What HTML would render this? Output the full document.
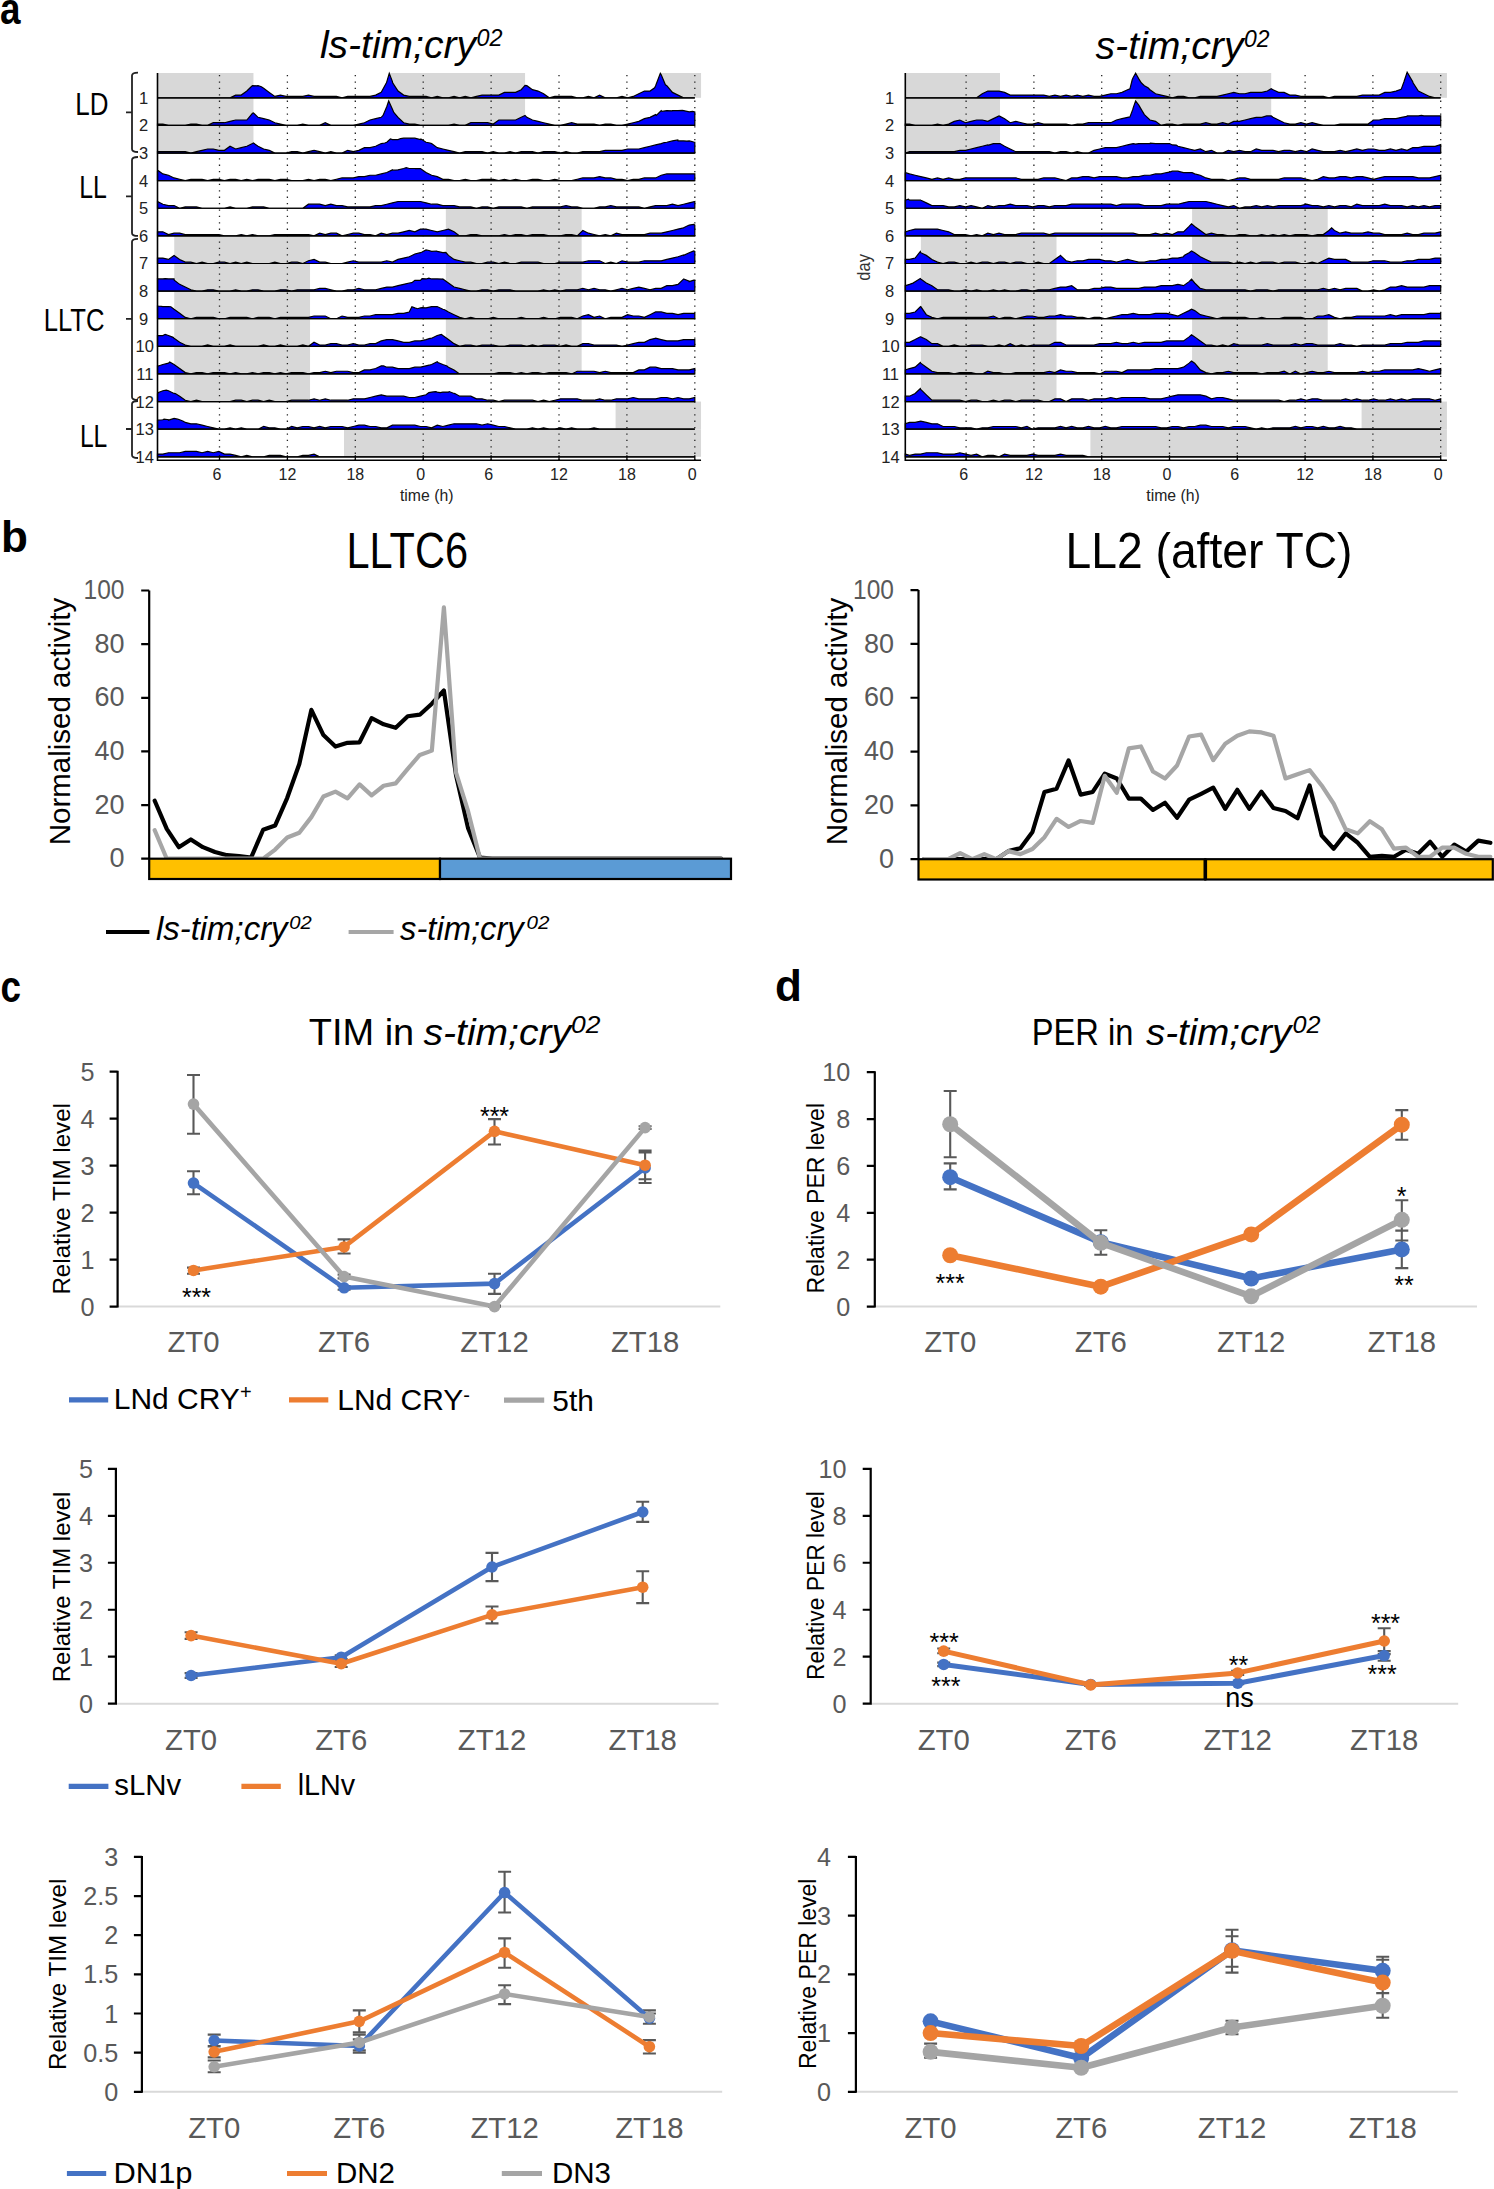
<!DOCTYPE html>
<html><head><meta charset="utf-8"><style>
html,body{margin:0;padding:0;background:#fff;}
svg{display:block;}
</style></head><body>
<svg width="1494" height="2189" viewBox="0 0 1494 2189" font-family='"Liberation Sans", sans-serif'>
<rect width="1494" height="2189" fill="#fff"/>
<text x="0" y="23.8" font-size="44" fill="#000" font-weight="bold" textLength="20.5" lengthAdjust="spacingAndGlyphs" >a</text>
<text x="1" y="552.2" font-size="44" fill="#000" font-weight="bold" >b</text>
<text x="0.5" y="1001.6" font-size="44" fill="#000" font-weight="bold" textLength="20.5" lengthAdjust="spacingAndGlyphs" >c</text>
<text x="775" y="1001" font-size="44" fill="#000" font-weight="bold" >d</text>
<rect x="157.5" y="73" width="95.95" height="24.8" fill="#d8d8d8"/>
<rect x="389.26" y="73" width="135.8" height="24.8" fill="#d8d8d8"/>
<rect x="660.87" y="73" width="40.18" height="24.8" fill="#d8d8d8"/>
<rect x="157.5" y="97.8" width="95.95" height="27.61" fill="#d8d8d8"/>
<rect x="389.26" y="97.8" width="135.8" height="27.61" fill="#d8d8d8"/>
<rect x="157.5" y="125.41" width="95.95" height="27.62" fill="#d8d8d8"/>
<rect x="445.84" y="208.26" width="135.8" height="27.62" fill="#d8d8d8"/>
<rect x="174.23" y="235.88" width="135.8" height="27.62" fill="#d8d8d8"/>
<rect x="445.84" y="235.88" width="135.8" height="27.62" fill="#d8d8d8"/>
<rect x="174.23" y="263.49" width="135.8" height="27.61" fill="#d8d8d8"/>
<rect x="445.84" y="263.49" width="135.8" height="27.61" fill="#d8d8d8"/>
<rect x="174.23" y="291.1" width="135.8" height="27.62" fill="#d8d8d8"/>
<rect x="445.84" y="291.1" width="135.8" height="27.62" fill="#d8d8d8"/>
<rect x="174.23" y="318.72" width="135.8" height="27.62" fill="#d8d8d8"/>
<rect x="445.84" y="318.72" width="135.8" height="27.62" fill="#d8d8d8"/>
<rect x="174.23" y="346.33" width="135.8" height="27.62" fill="#d8d8d8"/>
<rect x="445.84" y="346.33" width="135.8" height="27.62" fill="#d8d8d8"/>
<rect x="174.23" y="373.95" width="135.8" height="27.62" fill="#d8d8d8"/>
<rect x="615.6" y="401.56" width="85.44" height="27.62" fill="#d8d8d8"/>
<rect x="343.99" y="429.18" width="357.05" height="27.62" fill="#d8d8d8"/>
<path d="M219.5 75V460.2M287.4 75V460.2M355.31 75V460.2M423.21 75V460.2M491.11 75V460.2M559.01 75V460.2M626.91 75V460.2M694.82 75V460.2" stroke="#222" stroke-width="1.3" stroke-dasharray="1.3 5.1" fill="none"/>
<path d="M157.5 97.8L157.5 97.8L162.86 97.8L168.46 97.8L174.06 97.8L179.66 97.8L185.26 97.8L190.86 97.8L196.46 97.8L202.05 97.8L207.65 97.8L213.25 97.8L218.85 97.8L224.45 97.8L230.05 97.8L235.65 95.1L241.25 95.1L246.85 91.05L251.19 86.8L252.45 85.65L256.28 85.8L258.05 85.65L261.37 86.8L263.65 88.35L269.25 92.4L274.85 96.45L280.45 95.1L286.05 96.45L291.65 96.45L297.25 96.45L302.85 96.45L308.45 95.1L314.05 96.45L319.65 96.45L325.25 96.45L330.84 96.45L336.44 96.45L342.04 97.8L347.64 96.45L353.24 96.45L358.84 96.45L364.44 96.45L370.04 96.45L375.64 95.1L381.24 92.4L386.43 82.8L386.84 81.6L389.26 73.3L392.44 81.6L392.65 82.8L398.04 91.05L403.64 95.1L409.24 96.45L414.84 96.45L420.44 96.45L426.04 96.45L431.64 97.8L437.24 96.45L442.84 97.8L448.44 97.8L454.04 96.45L459.63 97.8L465.23 96.45L470.83 97.8L476.43 96.45L482.03 95.1L487.63 95.1L493.23 95.1L498.83 95.1L504.43 92.4L510.03 92.4L515.63 92.4L521.23 89.7L525.06 85.3L526.83 85.65L532.43 89.7L538.03 91.05L543.63 93.75L549.23 97.8L554.83 96.45L560.43 96.45L566.03 96.45L571.63 96.45L577.23 97.8L582.82 97.8L588.42 96.45L594.02 97.8L599.62 95.1L605.22 97.8L610.82 97.8L616.42 97.8L622.02 96.45L627.62 97.8L633.22 96.45L638.82 93.75L644.42 91.05L650.02 91.05L654.64 87.8L655.62 85.65L660.3 73.3L661.22 74.85L665.39 84.8L666.82 85.65L672.42 92.4L678.02 95.1L683.62 97.8L689.22 97.8L694.82 97.8L694.82 97.8Z" fill="#0000ff" stroke="#000" stroke-width="1.2" stroke-linejoin="miter"/>
<path d="M157.5 125.41L157.5 124.06L162.86 124.06L168.46 125.41L174.06 125.41L179.66 125.41L185.26 125.41L190.86 124.06L196.46 124.06L202.05 125.41L207.65 125.41L213.25 122.71L218.85 122.71L224.45 122.71L230.05 121.36L235.65 120.01L241.25 120.01L246.85 120.01L252.45 113.26L253.45 112.91L258.05 117.31L263.65 118.66L269.25 120.01L274.85 122.71L280.45 124.06L286.05 125.41L291.65 125.41L297.25 125.41L302.85 124.06L308.45 125.41L314.05 125.41L319.65 125.41L325.25 122.71L330.84 125.41L336.44 125.41L342.04 125.41L347.64 125.41L353.24 125.41L358.84 124.06L364.44 122.71L370.04 120.01L375.64 118.66L381.24 117.31L383.03 115.41L386.84 106.51L388.69 100.91L392.44 109.21L393.78 112.41L398.04 117.31L403.64 122.71L409.24 124.06L414.84 124.06L420.44 125.41L426.04 125.41L431.64 125.41L437.24 125.41L442.84 125.41L448.44 125.41L454.04 124.06L459.63 125.41L465.23 125.41L470.83 122.71L476.43 122.71L482.03 122.71L487.63 122.71L493.23 124.06L498.83 120.01L504.43 120.01L510.03 120.01L515.63 120.01L521.23 117.31L525.06 115.41L526.83 117.31L532.43 120.01L538.03 121.36L543.63 122.71L549.23 124.06L554.83 125.41L560.43 125.41L566.03 124.06L571.63 122.71L577.23 124.06L582.82 124.06L588.42 124.06L594.02 124.06L599.62 125.41L605.22 124.06L610.82 124.06L616.42 125.41L622.02 125.41L627.62 124.06L633.22 122.71L638.82 121.36L644.42 118.66L650.02 117.31L655.62 114.61L656.34 115.41L661.22 110.56L662 111.41L666.82 110.56L672.18 110.91L672.42 110.56L678.02 110.56L682.37 110.41L683.62 110.56L689.22 111.91L692.55 111.41L694.82 111.91L694.82 125.41Z" fill="#0000ff" stroke="#000" stroke-width="1.2" stroke-linejoin="miter"/>
<path d="M157.5 153.03L157.5 151.68L162.86 151.68L168.46 151.68L174.06 151.68L179.66 151.68L185.26 151.68L190.86 153.03L196.46 151.68L202.05 150.33L207.65 148.98L213.25 148.98L218.85 150.33L224.45 150.33L230.05 146.28L235.65 148.98L241.25 147.63L246.85 146.28L252.45 143.58L253.45 143.03L258.05 146.28L263.65 148.98L269.25 150.33L274.85 153.03L280.45 153.03L286.05 153.03L291.65 151.68L297.25 151.68L302.85 153.03L308.45 151.68L314.05 150.33L319.65 151.68L325.25 153.03L330.84 151.68L336.44 153.03L342.04 153.03L347.64 150.33L353.24 151.68L358.84 150.33L364.44 147.63L370.04 147.63L375.64 146.28L381.24 143.58L384.73 143.03L386.84 142.23L390.39 139.03L392.44 139.53L398.04 139.53L400.57 138.53L403.64 138.18L409.24 138.18L410.76 138.03L414.84 138.18L420.44 139.53L420.94 139.03L426.04 142.23L430 143.03L431.64 143.58L437.24 147.63L442.84 148.98L448.44 150.33L454.04 151.68L459.63 153.03L465.23 151.68L470.83 151.68L476.43 151.68L482.03 151.68L487.63 153.03L493.23 151.68L498.83 153.03L504.43 153.03L510.03 151.68L515.63 153.03L521.23 151.68L526.83 151.68L532.43 151.68L538.03 153.03L543.63 151.68L549.23 151.68L554.83 151.68L560.43 153.03L566.03 151.68L571.63 153.03L577.23 153.03L582.82 151.68L588.42 151.68L594.02 151.68L599.62 151.68L605.22 150.33L610.82 150.33L616.42 150.33L622.02 150.33L627.62 148.98L633.22 148.98L638.82 148.98L644.42 147.63L650.02 146.28L655.62 144.93L661.22 143.58L664.26 142.53L666.82 142.23L672.42 140.88L677.84 140.03L678.02 140.88L683.62 140.88L686.89 141.03L689.22 140.88L693.68 142.03L694.82 142.23L694.82 153.03Z" fill="#0000ff" stroke="#000" stroke-width="1.2" stroke-linejoin="miter"/>
<path d="M157.5 180.64L157.5 171.19L158.39 170.64L162.86 173.89L168.46 175.24L174.06 177.94L179.66 179.29L185.26 180.64L190.86 179.29L196.46 179.29L202.05 179.29L207.65 180.64L213.25 179.29L218.85 179.29L224.45 180.64L230.05 179.29L235.65 179.29L241.25 180.64L246.85 179.29L252.45 180.64L258.05 179.29L263.65 179.29L269.25 179.29L274.85 180.64L280.45 179.29L286.05 179.29L291.65 180.64L297.25 180.64L302.85 180.64L308.45 179.29L314.05 180.64L319.65 179.29L325.25 179.29L330.84 180.64L336.44 179.29L342.04 177.94L347.64 177.94L353.24 177.94L358.84 176.59L364.44 176.59L370.04 175.24L375.64 175.24L381.24 173.89L386.84 172.54L392.44 169.84L392.65 170.14L398.04 169.84L403.64 168.49L406.23 167.64L409.24 168.49L414.84 168.49L415.29 168.64L420.44 168.49L422.08 169.64L426.04 172.54L431.64 175.24L437.24 176.59L442.84 179.29L448.44 179.29L454.04 180.64L459.63 180.64L465.23 179.29L470.83 180.64L476.43 180.64L482.03 179.29L487.63 179.29L493.23 179.29L498.83 180.64L504.43 179.29L510.03 180.64L515.63 179.29L521.23 180.64L526.83 180.64L532.43 179.29L538.03 179.29L543.63 180.64L549.23 180.64L554.83 179.29L560.43 180.64L566.03 180.64L571.63 180.64L577.23 179.29L582.82 177.94L588.42 177.94L594.02 177.94L599.62 176.59L605.22 177.94L610.82 177.94L616.42 179.29L622.02 179.29L627.62 180.64L633.22 179.29L638.82 179.29L644.42 177.94L650.02 177.94L655.62 177.94L661.22 175.24L666.82 173.89L672.42 173.89L678.02 173.89L683.62 173.89L689.22 173.89L694.82 173.89L694.82 180.64Z" fill="#0000ff" stroke="#000" stroke-width="1.2" stroke-linejoin="miter"/>
<path d="M157.5 208.26L157.5 201.51L162.86 204.21L168.46 205.56L174.06 205.56L179.66 208.26L185.26 206.91L190.86 206.91L196.46 206.91L202.05 208.26L207.65 208.26L213.25 208.26L218.85 208.26L224.45 208.26L230.05 206.91L235.65 208.26L241.25 208.26L246.85 208.26L252.45 206.91L258.05 206.91L263.65 206.91L269.25 208.26L274.85 208.26L280.45 208.26L286.05 208.26L291.65 208.26L297.25 208.26L302.85 208.26L308.45 204.21L314.05 204.21L319.65 204.21L325.25 205.56L330.84 204.21L336.44 205.56L342.04 205.56L347.64 206.91L353.24 206.91L358.84 206.91L364.44 206.91L370.04 206.91L375.64 205.56L381.24 205.56L386.84 204.21L392.44 202.86L398.04 201.51L403.64 201.51L409.24 201.51L414.84 201.51L420.44 201.51L426.04 202.86L431.64 204.21L437.24 204.21L442.84 205.56L448.44 205.56L454.04 205.56L459.63 206.91L465.23 206.91L470.83 206.91L476.43 208.26L482.03 206.91L487.63 206.91L493.23 208.26L498.83 206.91L504.43 206.91L510.03 206.91L515.63 206.91L521.23 206.91L526.83 208.26L532.43 206.91L538.03 206.91L543.63 206.91L549.23 206.91L554.83 206.91L560.43 206.91L566.03 205.56L571.63 206.91L577.23 206.91L582.82 208.26L588.42 208.26L594.02 208.26L599.62 206.91L605.22 206.91L610.82 205.56L616.42 206.91L622.02 206.91L627.62 206.91L633.22 206.91L638.82 206.91L644.42 208.26L650.02 206.91L655.62 205.56L661.22 205.56L666.82 205.56L672.42 204.21L678.02 205.56L683.62 204.21L689.22 202.86L694.82 201.51L694.82 208.26Z" fill="#0000ff" stroke="#000" stroke-width="1.2" stroke-linejoin="miter"/>
<path d="M157.5 235.88L157.5 231.82L162.86 231.82L168.46 234.53L174.06 233.18L179.66 233.18L185.26 234.53L190.86 234.53L196.46 234.53L202.05 234.53L207.65 234.53L213.25 234.53L218.85 234.53L224.45 235.88L230.05 235.88L235.65 235.88L241.25 234.53L246.85 235.88L252.45 234.53L258.05 235.88L263.65 235.88L269.25 235.88L274.85 234.53L280.45 234.53L286.05 234.53L291.65 234.53L297.25 234.53L302.85 234.53L308.45 234.53L314.05 235.88L319.65 233.18L325.25 234.53L330.84 233.18L336.44 233.18L342.04 235.88L347.64 234.53L353.24 233.18L358.84 233.18L364.44 234.53L370.04 234.53L375.64 235.88L381.24 233.18L386.84 234.53L392.44 233.18L398.04 233.18L403.64 231.82L409.24 230.47L414.84 231.82L420.44 229.12L426.04 229.12L431.64 230.47L437.24 231.82L442.84 230.47L448.44 229.12L454.04 231.82L459.63 235.88L465.23 235.88L470.83 234.53L476.43 234.53L482.03 235.88L487.63 235.88L493.23 235.88L498.83 235.88L504.43 234.53L510.03 235.88L515.63 234.53L521.23 234.53L526.83 235.88L532.43 234.53L538.03 234.53L543.63 234.53L549.23 235.88L554.83 235.88L560.43 235.88L566.03 234.53L571.63 234.53L577.23 235.88L582.82 230.47L588.42 233.18L594.02 234.53L599.62 235.88L605.22 234.53L610.82 235.88L616.42 233.18L622.02 234.53L627.62 234.53L633.22 234.53L638.82 234.53L644.42 234.53L650.02 233.18L655.62 233.18L661.22 233.18L666.82 231.82L672.42 230.47L678.02 229.12L683.5 227.88L683.62 227.78L689.22 225.07L693.68 224.38L694.82 225.07L694.82 235.88Z" fill="#0000ff" stroke="#000" stroke-width="1.2" stroke-linejoin="miter"/>
<path d="M157.5 263.49L157.5 258.09L162.86 258.09L168.46 259.44L174.06 255.39L179.66 259.44L185.26 262.14L190.86 262.14L196.46 263.49L202.05 262.14L207.65 263.49L213.25 263.49L218.85 262.14L224.45 262.14L230.05 263.49L235.65 262.14L241.25 263.49L246.85 262.14L252.45 263.49L258.05 263.49L263.65 263.49L269.25 263.49L274.85 262.14L280.45 263.49L286.05 263.49L291.65 262.14L297.25 262.14L302.85 263.49L308.45 260.79L314.05 259.44L319.65 262.14L325.25 262.14L330.84 263.49L336.44 263.49L342.04 263.49L347.64 262.14L353.24 260.79L358.84 262.14L364.44 262.14L370.04 262.14L375.64 262.14L381.24 262.14L386.84 260.79L392.44 262.14L398.04 259.44L403.64 258.09L409.24 256.74L411.89 255.49L414.84 254.04L420.44 252.69L422.08 251.99L426.04 249.99L428.87 250.49L431.64 251.34L436.79 250.99L437.24 251.34L442.84 252.69L445.84 252.49L448.44 255.39L454.04 259.44L459.63 260.79L465.23 262.14L470.83 262.14L476.43 263.49L482.03 263.49L487.63 262.14L493.23 262.14L498.83 263.49L504.43 262.14L510.03 263.49L515.63 263.49L521.23 262.14L526.83 262.14L532.43 262.14L538.03 262.14L543.63 263.49L549.23 263.49L554.83 263.49L560.43 262.14L566.03 262.14L571.63 262.14L577.23 262.14L582.82 262.14L588.42 260.79L594.02 260.79L599.62 260.79L605.22 263.49L610.82 262.14L616.42 263.49L622.02 260.79L627.62 262.14L633.22 262.14L638.82 262.14L644.42 260.79L650.02 260.79L655.62 260.79L661.22 260.79L666.82 259.44L672.42 258.09L678.02 256.74L683.5 254.99L683.62 255.39L689.22 252.69L693.68 250.99L694.82 251.34L694.82 263.49Z" fill="#0000ff" stroke="#000" stroke-width="1.2" stroke-linejoin="miter"/>
<path d="M157.5 291.1L157.5 278.1L157.5 278.95L162.86 278.95L165.18 278.6L168.46 278.95L174.06 278.95L174.23 280.1L179.66 284.35L185.26 287.05L190.86 289.75L196.46 291.1L202.05 291.1L207.65 289.75L213.25 289.75L218.85 291.1L224.45 291.1L230.05 291.1L235.65 289.75L241.25 291.1L246.85 291.1L252.45 289.75L258.05 289.75L263.65 291.1L269.25 291.1L274.85 291.1L280.45 289.75L286.05 289.75L291.65 291.1L297.25 289.75L302.85 289.75L308.45 289.75L314.05 289.75L319.65 288.4L325.25 288.4L330.84 289.75L336.44 291.1L342.04 291.1L347.64 289.75L353.24 289.75L358.84 288.4L364.44 289.75L370.04 289.75L375.64 289.75L381.24 288.4L386.84 287.05L392.44 287.05L398.04 285.7L403.64 284.35L409.24 283L411.89 282.6L414.84 280.3L420.44 280.3L422.08 278.6L426.04 278.95L428.87 278.1L431.64 278.95L437.24 278.95L442.45 279.1L442.84 278.95L448.44 283L454.04 287.05L459.63 288.4L465.23 289.75L470.83 291.1L476.43 291.1L482.03 289.75L487.63 289.75L493.23 291.1L498.83 289.75L504.43 289.75L510.03 289.75L515.63 291.1L521.23 291.1L526.83 291.1L532.43 291.1L538.03 291.1L543.63 289.75L549.23 291.1L554.83 289.75L560.43 291.1L566.03 289.75L571.63 289.75L577.23 289.75L582.82 288.4L588.42 289.75L594.02 288.4L599.62 289.75L605.22 289.75L610.82 291.1L616.42 289.75L622.02 288.4L627.62 289.75L633.22 288.4L638.82 287.05L644.42 288.4L650.02 289.75L655.62 288.4L661.22 288.4L666.82 285.7L672.42 285.7L678.02 284.35L683.5 279.1L683.62 278.95L689.16 281.1L689.22 281.65L693.68 280.1L694.82 280.3L694.82 291.1Z" fill="#0000ff" stroke="#000" stroke-width="1.2" stroke-linejoin="miter"/>
<path d="M157.5 318.72L157.5 305.22L157.5 305.72L162.86 306.57L168.46 306.57L170.84 306.72L174.06 309.27L179.66 313.32L185.26 317.37L190.86 318.72L196.46 317.37L202.05 317.37L207.65 317.37L213.25 317.37L218.85 318.72L224.45 318.72L230.05 317.37L235.65 317.37L241.25 317.37L246.85 317.37L252.45 318.72L258.05 317.37L263.65 317.37L269.25 317.37L274.85 318.72L280.45 317.37L286.05 317.37L291.65 317.37L297.25 317.37L302.85 317.37L308.45 317.37L314.05 316.02L319.65 316.02L325.25 316.02L330.84 318.72L336.44 318.72L342.04 316.02L347.64 317.37L353.24 317.37L358.84 317.37L364.44 316.02L370.04 316.02L375.64 314.67L381.24 314.67L386.84 314.67L392.44 314.67L398.04 313.32L403.64 313.32L409.24 311.97L411.89 306.72L414.84 307.92L417.55 308.72L420.44 307.92L422.08 307.72L426.04 307.92L431.64 306.57L436.79 306.72L437.24 306.57L442.84 309.27L444.71 309.72L448.44 311.97L454.04 314.67L459.63 317.37L465.23 318.72L470.83 317.37L476.43 318.72L482.03 318.72L487.63 318.72L493.23 317.37L498.83 318.72L504.43 318.72L510.03 318.72L515.63 318.72L521.23 317.37L526.83 318.72L532.43 318.72L538.03 318.72L543.63 317.37L549.23 318.72L554.83 318.72L560.43 317.37L566.03 317.37L571.63 317.37L577.23 318.72L582.82 316.02L588.42 314.67L594.02 317.37L599.62 316.02L605.22 318.72L610.82 317.37L616.42 317.37L622.02 317.37L627.62 314.67L633.22 316.02L638.82 316.02L644.42 317.37L650.02 314.67L655.62 311.97L661.22 311.97L666.82 313.32L672.42 313.32L678.02 314.67L683.62 313.32L689.22 313.32L694.82 313.32L694.82 318.72Z" fill="#0000ff" stroke="#000" stroke-width="1.2" stroke-linejoin="miter"/>
<path d="M157.5 346.33L157.5 335.53L162.86 335.53L165.18 334.33L168.46 335.53L173.1 337.33L174.06 338.23L179.66 342.28L185.26 344.98L190.86 346.33L196.46 346.33L202.05 346.33L207.65 344.98L213.25 346.33L218.85 346.33L224.45 346.33L230.05 344.98L235.65 346.33L241.25 346.33L246.85 346.33L252.45 346.33L258.05 346.33L263.65 344.98L269.25 346.33L274.85 346.33L280.45 344.98L286.05 346.33L291.65 346.33L297.25 346.33L302.85 344.98L308.45 346.33L314.05 342.28L319.65 344.98L325.25 344.98L330.84 343.63L336.44 343.63L342.04 344.98L347.64 344.98L353.24 343.63L358.84 344.98L364.44 344.98L370.04 343.63L375.64 343.63L381.24 340.94L386.84 339.58L392.44 339.58L398.04 340.94L403.64 342.28L409.24 342.28L414.84 340.94L420.44 340.94L426.04 339.58L430 338.33L431.64 338.23L437.24 335.53L441.32 334.33L442.84 335.53L448.44 339.58L454.04 343.63L459.63 346.33L465.23 344.98L470.83 344.98L476.43 346.33L482.03 344.98L487.63 344.98L493.23 344.98L498.83 346.33L504.43 346.33L510.03 344.98L515.63 344.98L521.23 344.98L526.83 346.33L532.43 344.98L538.03 346.33L543.63 344.98L549.23 344.98L554.83 344.98L560.43 346.33L566.03 344.98L571.63 346.33L577.23 346.33L582.82 343.63L588.42 343.63L594.02 344.98L599.62 344.98L605.22 344.98L610.82 344.98L616.42 344.98L622.02 346.33L627.62 344.98L633.22 343.63L638.82 342.28L644.42 342.28L650.02 339.58L655.21 338.33L655.62 338.23L661.22 339.58L666.82 340.94L672.42 340.94L678.02 340.94L683.62 339.58L689.22 339.58L694.82 339.58L694.82 346.33Z" fill="#0000ff" stroke="#000" stroke-width="1.2" stroke-linejoin="miter"/>
<path d="M157.5 373.95L157.5 365.85L158.39 365.95L162.86 364.5L168.46 363.15L169.71 361.95L174.06 364.5L179.66 368.55L185.26 372.6L190.86 373.95L196.46 372.6L202.05 372.6L207.65 373.95L213.25 372.6L218.85 372.6L224.45 372.6L230.05 373.95L235.65 372.6L241.25 373.95L246.85 373.95L252.45 372.6L258.05 373.95L263.65 372.6L269.25 372.6L274.85 373.95L280.45 372.6L286.05 373.95L291.65 372.6L297.25 372.6L302.85 372.6L308.45 373.95L314.05 372.6L319.65 372.6L325.25 371.25L330.84 372.6L336.44 371.25L342.04 371.25L347.64 371.25L353.24 372.6L358.84 372.6L364.44 369.9L370.04 369.9L375.64 368.55L381.24 365.85L383.6 365.95L386.84 367.2L392.44 367.2L398.04 368.55L403.64 368.55L409.24 368.55L414.84 367.2L420.44 367.2L426.04 365.85L430 364.95L431.64 364.5L437.24 361.8L437.92 362.45L442.84 364.5L446.97 365.95L448.44 367.2L454.04 369.9L459.63 373.95L465.23 373.95L470.83 373.95L476.43 373.95L482.03 373.95L487.63 373.95L493.23 373.95L498.83 372.6L504.43 372.6L510.03 372.6L515.63 373.95L521.23 372.6L526.83 373.95L532.43 372.6L538.03 372.6L543.63 373.95L549.23 372.6L554.83 372.6L560.43 372.6L566.03 372.6L571.63 373.95L577.23 371.25L582.82 371.25L588.42 371.25L594.02 371.25L599.62 372.6L605.22 371.25L610.82 372.6L616.42 372.6L622.02 372.6L627.62 372.6L633.22 372.6L638.82 369.9L644.42 369.9L650.02 367.2L655.62 367.2L661.22 368.55L666.82 368.55L672.42 368.55L678.02 369.9L683.62 369.9L689.22 369.9L694.82 368.55L694.82 373.95Z" fill="#0000ff" stroke="#000" stroke-width="1.2" stroke-linejoin="miter"/>
<path d="M157.5 401.56L157.5 393.46L158.39 392.56L162.86 390.76L166.31 390.06L168.46 390.76L174.06 393.46L175.37 393.56L179.66 396.17L185.26 400.21L190.86 401.56L196.46 400.21L202.05 401.56L207.65 401.56L213.25 401.56L218.85 401.56L224.45 401.56L230.05 401.56L235.65 400.21L241.25 400.21L246.85 401.56L252.45 400.21L258.05 400.21L263.65 401.56L269.25 400.21L274.85 401.56L280.45 401.56L286.05 401.56L291.65 400.21L297.25 400.21L302.85 400.21L308.45 400.21L314.05 398.87L319.65 400.21L325.25 398.87L330.84 400.21L336.44 400.21L342.04 400.21L347.64 400.21L353.24 398.87L358.84 398.87L364.44 398.87L370.04 397.51L375.64 396.17L381.24 394.81L386.84 396.17L392.44 396.17L398.04 396.17L403.64 396.17L409.24 397.51L414.84 397.51L420.44 396.17L426.04 394.81L428.87 392.56L431.64 392.12L435.66 391.56L437.24 392.12L440.18 392.56L442.84 392.12L448.44 392.12L449.24 391.56L454.04 393.46L454.9 393.56L459.63 396.17L465.23 396.17L470.83 396.17L476.43 398.87L482.03 398.87L487.63 400.21L493.23 400.21L498.83 401.56L504.43 400.21L510.03 400.21L515.63 400.21L521.23 400.21L526.83 400.21L532.43 400.21L538.03 401.56L543.63 400.21L549.23 401.56L554.83 400.21L560.43 398.87L566.03 398.87L571.63 398.87L577.23 398.87L582.82 400.21L588.42 400.21L594.02 400.21L599.62 398.87L605.22 400.21L610.82 400.21L616.42 398.87L622.02 398.87L627.62 398.87L633.22 397.51L638.82 398.87L644.42 398.87L650.02 398.87L655.62 398.87L661.22 397.51L666.82 397.51L672.42 398.87L678.02 397.51L683.62 398.87L689.22 398.87L694.82 397.51L694.82 401.56Z" fill="#0000ff" stroke="#000" stroke-width="1.2" stroke-linejoin="miter"/>
<path d="M157.5 429.18L157.5 419.73L157.5 420.18L162.86 419.73L164.05 419.18L168.46 419.73L168.58 420.18L174.06 418.38L177.63 419.18L179.66 419.73L183.29 421.18L185.26 422.43L190.86 423.78L196.46 423.78L202.05 425.13L207.65 426.48L213.25 427.83L218.85 429.18L224.45 429.18L230.05 427.83L235.65 429.18L241.25 427.83L246.85 429.18L252.45 429.18L258.05 429.18L263.65 426.48L269.25 427.83L274.85 427.83L280.45 429.18L286.05 429.18L291.65 426.48L297.25 427.83L302.85 426.48L308.45 426.48L314.05 427.83L319.65 426.48L325.25 427.83L330.84 426.48L336.44 426.48L342.04 426.48L347.64 427.83L353.24 426.48L358.84 425.13L364.44 425.13L370.04 426.48L375.64 426.48L381.24 427.83L386.84 427.83L392.44 425.13L398.04 425.13L403.64 425.13L409.24 425.13L414.84 425.13L420.44 426.48L426.04 426.48L431.64 427.83L437.24 425.13L442.84 426.48L448.44 425.13L454.04 423.78L459.63 423.78L465.23 423.78L470.83 423.78L476.43 423.78L482.03 425.13L487.63 423.78L493.23 425.13L498.83 426.48L504.43 426.48L510.03 427.83L515.63 429.18L521.23 429.18L526.83 429.18L532.43 427.83L538.03 429.18L543.63 427.83L549.23 429.18L554.83 429.18L560.43 427.83L566.03 429.18L571.63 427.83L577.23 429.18L582.82 429.18L588.42 429.18L594.02 427.83L599.62 429.18L605.22 429.18L610.82 429.18L616.42 429.18L622.02 429.18L627.62 429.18L633.22 429.18L638.82 429.18L644.42 429.18L650.02 429.18L655.62 429.18L661.22 429.18L666.82 429.18L672.42 429.18L678.02 429.18L683.62 429.18L689.22 429.18L694.82 429.18L694.82 429.18Z" fill="#0000ff" stroke="#000" stroke-width="1.2" stroke-linejoin="miter"/>
<path d="M157.5 456.8L157.5 454.1L162.86 454.1L168.46 452.75L174.06 452.75L179.66 452.75L185.26 451.4L190.86 451.4L196.46 451.4L202.05 452.75L207.65 451.4L213.25 452.75L218.85 451.4L224.45 454.1L230.05 454.1L235.65 455.44L241.25 456.8L246.85 455.44L252.45 456.8L258.05 456.8L263.65 456.8L269.25 455.44L274.85 455.44L280.45 455.44L286.05 456.8L291.65 456.8L297.25 456.8L302.85 455.44L308.45 455.44L314.05 454.1L319.65 456.8L325.25 456.8L330.84 456.8L336.44 456.8L342.04 456.8L347.64 456.8L353.24 456.8L358.84 456.8L364.44 456.8L370.04 456.8L375.64 456.8L381.24 456.8L386.84 456.8L392.44 456.8L398.04 456.8L403.64 456.8L409.24 456.8L414.84 456.8L420.44 456.8L426.04 456.8L431.64 456.8L437.24 456.8L442.84 456.8L448.44 456.8L454.04 456.8L459.63 456.8L465.23 456.8L470.83 456.8L476.43 456.8L482.03 456.8L487.63 456.8L493.23 456.8L498.83 456.8L504.43 456.8L510.03 456.8L515.63 456.8L521.23 456.8L526.83 456.8L532.43 456.8L538.03 456.8L543.63 456.8L549.23 456.8L554.83 456.8L560.43 456.8L566.03 456.8L571.63 456.8L577.23 456.8L582.82 456.8L588.42 456.8L594.02 456.8L599.62 456.8L605.22 456.8L610.82 456.8L616.42 456.8L622.02 456.8L627.62 456.8L633.22 456.8L638.82 456.8L644.42 456.8L650.02 456.8L655.62 456.8L661.22 456.8L666.82 456.8L672.42 456.8L678.02 456.8L683.62 456.8L689.22 456.8L694.82 456.8L694.82 456.8Z" fill="#0000ff" stroke="#000" stroke-width="1.2" stroke-linejoin="miter"/>
<path d="M157.5 97.8H694.82M157.5 125.41H694.82M157.5 153.03H694.82M157.5 180.64H694.82M157.5 208.26H694.82M157.5 235.88H694.82M157.5 263.49H694.82M157.5 291.1H694.82M157.5 318.72H694.82M157.5 346.33H694.82M157.5 373.95H694.82M157.5 401.56H694.82M157.5 429.18H694.82M157.5 456.8H694.82" stroke="#000" stroke-width="1.2" fill="none"/>
<path d="M157.5 73V460.2H701.04" stroke="#000" stroke-width="1.6" fill="none"/>
<path d="M219.5 460.2V455.2M287.4 460.2V455.2M355.31 460.2V455.2M423.21 460.2V455.2M491.11 460.2V455.2M559.01 460.2V455.2M626.91 460.2V455.2M694.82 460.2V455.2" stroke="#000" stroke-width="1.3" fill="none"/>
<text x="217" y="479.6" font-size="16" fill="#222" text-anchor="middle" >6</text>
<text x="287.4" y="479.6" font-size="16" fill="#222" text-anchor="middle" >12</text>
<text x="355.31" y="479.6" font-size="16" fill="#222" text-anchor="middle" >18</text>
<text x="420.71" y="479.6" font-size="16" fill="#222" text-anchor="middle" >0</text>
<text x="488.61" y="479.6" font-size="16" fill="#222" text-anchor="middle" >6</text>
<text x="559.01" y="479.6" font-size="16" fill="#222" text-anchor="middle" >12</text>
<text x="626.91" y="479.6" font-size="16" fill="#222" text-anchor="middle" >18</text>
<text x="692.32" y="479.6" font-size="16" fill="#222" text-anchor="middle" >0</text>
<text x="426.71" y="500.5" font-size="16" fill="#222" text-anchor="middle" textLength="53.5" lengthAdjust="spacingAndGlyphs" >time (h)</text>
<rect x="905.3" y="73" width="94.7" height="24.8" fill="#d8d8d8"/>
<rect x="1135.6" y="73" width="135.6" height="24.8" fill="#d8d8d8"/>
<rect x="1406.8" y="73" width="40.12" height="24.8" fill="#d8d8d8"/>
<rect x="905.3" y="97.8" width="94.7" height="27.61" fill="#d8d8d8"/>
<rect x="1135.6" y="97.8" width="135.6" height="27.61" fill="#d8d8d8"/>
<rect x="905.3" y="125.41" width="94.7" height="27.62" fill="#d8d8d8"/>
<rect x="1192.1" y="208.26" width="135.6" height="27.62" fill="#d8d8d8"/>
<rect x="920.9" y="235.88" width="135.6" height="27.62" fill="#d8d8d8"/>
<rect x="1192.1" y="235.88" width="135.6" height="27.62" fill="#d8d8d8"/>
<rect x="920.9" y="263.49" width="135.6" height="27.61" fill="#d8d8d8"/>
<rect x="1192.1" y="263.49" width="135.6" height="27.61" fill="#d8d8d8"/>
<rect x="920.9" y="291.1" width="135.6" height="27.62" fill="#d8d8d8"/>
<rect x="1192.1" y="291.1" width="135.6" height="27.62" fill="#d8d8d8"/>
<rect x="920.9" y="318.72" width="135.6" height="27.62" fill="#d8d8d8"/>
<rect x="1192.1" y="318.72" width="135.6" height="27.62" fill="#d8d8d8"/>
<rect x="920.9" y="346.33" width="135.6" height="27.62" fill="#d8d8d8"/>
<rect x="1192.1" y="346.33" width="135.6" height="27.62" fill="#d8d8d8"/>
<rect x="920.9" y="373.95" width="135.6" height="27.62" fill="#d8d8d8"/>
<rect x="1361.6" y="401.56" width="85.32" height="27.62" fill="#d8d8d8"/>
<rect x="1090.4" y="429.18" width="356.51" height="27.62" fill="#d8d8d8"/>
<path d="M966.1 75V460.2M1033.9 75V460.2M1101.7 75V460.2M1169.5 75V460.2M1237.3 75V460.2M1305.1 75V460.2M1372.9 75V460.2M1440.7 75V460.2" stroke="#222" stroke-width="1.3" stroke-dasharray="1.3 5.1" fill="none"/>
<path d="M905.3 97.8L905.3 97.8L909.54 97.8L915.13 97.8L920.72 97.8L926.31 97.8L931.91 97.8L937.5 97.8L943.09 97.8L948.68 97.8L954.27 97.8L959.86 97.8L965.45 97.8L971.04 97.8L976.63 97.8L982.23 93.75L987.82 91.05L993.41 91.05L999 91.05L1004.59 92.4L1010.18 95.1L1015.77 95.1L1021.36 95.1L1026.96 95.1L1032.55 95.1L1038.14 95.1L1043.73 95.1L1049.32 96.45L1054.91 95.1L1060.5 96.45L1066.09 95.1L1071.68 96.45L1077.28 95.1L1082.87 96.45L1088.46 95.1L1094.05 96.45L1099.64 96.45L1105.23 95.1L1110.82 93.75L1116.41 93.75L1122 92.4L1127.6 89.7L1129.95 88.8L1132.21 79.8L1133.19 77.55L1135.6 73.3L1138.78 78.9L1141.25 82.8L1144.37 85.65L1148.03 87.8L1149.96 89.7L1155.55 93.75L1161.14 95.1L1166.73 96.45L1172.33 97.8L1177.92 96.45L1183.51 96.45L1189.1 97.8L1194.69 97.8L1200.28 96.45L1205.87 96.45L1211.46 96.45L1217.05 96.45L1222.65 95.1L1228.24 93.75L1233.83 92.4L1239.42 93.75L1245.01 93.75L1250.6 92.4L1256.19 92.4L1261.78 92.4L1267.37 91.05L1271.2 88.8L1272.97 89.7L1278.56 92.4L1284.15 92.4L1289.74 95.1L1295.33 95.1L1300.92 96.45L1306.51 96.45L1312.1 96.45L1317.69 96.45L1323.29 96.45L1328.88 97.8L1334.47 96.45L1340.06 96.45L1345.65 96.45L1351.24 96.45L1356.83 96.45L1362.42 95.1L1368.02 95.1L1373.61 95.1L1379.2 95.1L1384.79 92.4L1390.38 92.4L1395.97 91.05L1401.15 89.3L1401.56 88.35L1403.97 81.8L1406.8 73.3L1407.15 72.15L1412.74 81.6L1413.01 82.8L1418.34 91.05L1423.93 93.75L1429.52 96.45L1435.11 97.8L1440.7 97.8L1440.7 97.8Z" fill="#0000ff" stroke="#000" stroke-width="1.2" stroke-linejoin="miter"/>
<path d="M905.3 125.41L905.3 124.06L909.54 124.06L915.13 125.41L920.72 125.41L926.31 125.41L931.91 125.41L937.5 124.06L943.09 125.41L948.68 124.06L954.27 121.36L959.86 120.01L965.45 122.71L971.04 121.36L976.63 120.01L982.23 120.01L987.82 121.36L993.41 118.66L999 115.96L1000 116.41L1004.59 118.66L1010.18 122.71L1015.77 121.36L1021.36 122.71L1026.96 124.06L1032.55 124.06L1038.14 122.71L1043.73 124.06L1049.32 124.06L1054.91 124.06L1060.5 124.06L1066.09 124.06L1071.68 125.41L1077.28 124.06L1082.87 124.06L1088.46 122.71L1094.05 122.71L1099.64 122.71L1105.23 122.71L1110.82 122.71L1116.41 120.01L1122 118.66L1127.6 117.31L1129.95 116.91L1132.78 109.41L1133.19 107.86L1135.6 100.91L1138.78 105.16L1141.82 110.41L1144.37 114.61L1149.96 120.01L1155.55 121.36L1161.14 125.41L1166.73 124.06L1172.33 124.06L1177.92 125.41L1183.51 124.06L1189.1 124.06L1194.69 124.06L1200.28 124.06L1205.87 122.71L1211.46 124.06L1217.05 124.06L1222.65 122.71L1228.24 124.06L1233.83 121.36L1239.42 121.36L1245.01 120.01L1250.6 118.66L1256.19 117.31L1259.9 117.41L1261.78 117.31L1266.68 115.91L1267.37 115.96L1271.2 115.91L1272.97 117.31L1278.56 120.01L1284.15 122.71L1289.74 124.06L1295.33 124.06L1300.92 122.71L1306.51 124.06L1312.1 122.71L1317.69 124.06L1323.29 125.41L1328.88 125.41L1334.47 125.41L1340.06 124.06L1345.65 124.06L1351.24 124.06L1356.83 124.06L1362.42 124.06L1368.02 124.06L1373.61 120.01L1379.2 120.01L1384.79 118.66L1390.38 118.66L1395.97 118.66L1401.56 117.31L1406.8 116.41L1407.15 115.96L1412.74 115.96L1418.34 115.96L1421.49 115.41L1423.93 115.96L1429.52 115.96L1432.79 115.91L1435.11 115.96L1440.7 115.91L1440.7 115.96L1440.7 125.41Z" fill="#0000ff" stroke="#000" stroke-width="1.2" stroke-linejoin="miter"/>
<path d="M905.3 153.03L905.3 153.03L909.54 151.68L915.13 151.68L920.72 151.68L926.31 151.68L931.91 151.68L937.5 151.68L943.09 151.68L948.68 151.68L954.27 151.68L959.86 150.33L965.45 150.33L971.04 148.98L976.63 147.63L982.23 146.28L987.82 144.93L988.7 145.03L993.41 143.58L995.48 143.53L999 143.58L1000 143.53L1004.59 146.28L1010.18 148.98L1015.77 151.68L1021.36 151.68L1026.96 151.68L1032.55 151.68L1038.14 151.68L1043.73 151.68L1049.32 151.68L1054.91 153.03L1060.5 151.68L1066.09 151.68L1071.68 153.03L1077.28 151.68L1082.87 153.03L1088.46 153.03L1094.05 150.33L1099.64 148.98L1105.23 147.63L1110.82 147.63L1116.41 147.63L1122 146.28L1127.6 144.93L1133.19 143.58L1135.6 144.03L1138.78 143.58L1144.37 143.58L1149.96 143.58L1150.29 143.03L1155.55 143.58L1161.14 143.58L1161.59 143.53L1166.73 143.58L1169.5 143.53L1172.33 144.93L1176.28 145.03L1177.92 146.28L1183.51 147.63L1189.1 148.98L1194.69 150.33L1200.28 148.98L1205.87 151.68L1211.46 150.33L1217.05 153.03L1222.65 153.03L1228.24 150.33L1233.83 151.68L1239.42 150.33L1245.01 151.68L1250.6 151.68L1256.19 148.98L1261.78 150.33L1267.37 150.33L1272.97 150.33L1278.56 151.68L1284.15 150.33L1289.74 150.33L1295.33 151.68L1300.92 150.33L1306.51 151.68L1312.1 148.98L1317.69 150.33L1323.29 151.68L1328.88 151.68L1334.47 151.68L1340.06 150.33L1345.65 151.68L1351.24 150.33L1356.83 148.98L1362.42 150.33L1368.02 148.98L1373.61 148.98L1379.2 150.33L1384.79 150.33L1390.38 148.98L1395.97 150.33L1401.56 148.98L1407.15 150.33L1412.74 147.63L1418.34 147.63L1423.93 146.28L1429.52 146.28L1435.11 146.28L1440.7 144.53L1440.7 144.93L1440.7 153.03Z" fill="#0000ff" stroke="#000" stroke-width="1.2" stroke-linejoin="miter"/>
<path d="M905.3 180.64L905.3 172.54L905.3 172.64L909.54 173.89L915.13 175.24L920.72 176.59L926.31 177.94L931.91 179.29L937.5 177.94L943.09 179.29L948.68 177.94L954.27 179.29L959.86 179.29L965.45 177.94L971.04 177.94L976.63 177.94L982.23 177.94L987.82 177.94L993.41 177.94L999 177.94L1004.59 177.94L1010.18 177.94L1015.77 177.94L1021.36 179.29L1026.96 179.29L1032.55 179.29L1038.14 179.29L1043.73 177.94L1049.32 177.94L1054.91 177.94L1060.5 179.29L1066.09 180.64L1071.68 177.94L1077.28 177.94L1082.87 176.59L1088.46 176.59L1094.05 177.94L1099.64 176.59L1105.23 176.59L1110.82 176.59L1116.41 176.59L1122 177.94L1127.6 177.94L1133.19 176.59L1138.78 176.59L1144.37 175.24L1149.96 175.24L1155.55 173.89L1161.14 173.89L1166.73 172.54L1169.5 172.14L1172.33 171.19L1177.92 171.19L1179.67 171.64L1183.51 172.54L1189.1 172.54L1192.1 172.64L1194.69 173.89L1200.28 175.24L1205.87 177.94L1211.46 179.29L1217.05 179.29L1222.65 179.29L1228.24 180.64L1233.83 179.29L1239.42 177.94L1245.01 177.94L1250.6 179.29L1256.19 179.29L1261.78 179.29L1267.37 179.29L1272.97 179.29L1278.56 179.29L1284.15 177.94L1289.74 177.94L1295.33 177.94L1300.92 177.94L1306.51 179.29L1312.1 180.64L1317.69 179.29L1323.29 176.59L1328.88 177.94L1334.47 177.94L1340.06 176.59L1345.65 176.59L1351.24 177.94L1356.83 176.59L1362.42 176.59L1368.02 177.94L1373.61 179.29L1379.2 177.94L1384.79 176.59L1390.38 176.59L1395.97 176.59L1401.56 176.59L1407.15 176.59L1412.74 176.59L1418.34 177.94L1423.93 177.94L1429.52 177.94L1435.11 176.59L1440.7 175.24L1440.7 180.64Z" fill="#0000ff" stroke="#000" stroke-width="1.2" stroke-linejoin="miter"/>
<path d="M905.3 208.26L905.3 200.16L908.47 199.26L909.54 200.16L915.13 200.16L920.72 200.16L920.9 200.26L926.31 202.86L931.91 205.56L937.5 205.56L943.09 205.56L948.68 206.91L954.27 206.91L959.86 205.56L965.45 206.91L971.04 205.56L976.63 206.91L982.23 208.26L987.82 205.56L993.41 206.91L999 205.56L1004.59 205.56L1010.18 204.21L1015.77 205.56L1021.36 205.56L1026.96 205.56L1032.55 206.91L1038.14 205.56L1043.73 205.56L1049.32 206.91L1054.91 205.56L1060.5 205.56L1066.09 205.56L1071.68 204.21L1077.28 204.21L1082.87 204.21L1088.46 204.21L1094.05 204.21L1099.64 204.21L1105.23 204.21L1110.82 204.21L1116.41 205.56L1122 204.21L1127.6 204.21L1133.19 204.21L1138.78 204.21L1144.37 205.56L1149.96 205.56L1155.55 205.56L1161.14 205.56L1166.73 204.21L1172.33 204.21L1177.92 204.21L1183.51 202.86L1189.1 201.51L1194.69 201.51L1200.28 201.51L1205.87 201.51L1211.46 202.86L1217.05 204.21L1222.65 205.56L1228.24 206.91L1233.83 205.56L1239.42 208.26L1245.01 206.91L1250.6 206.91L1256.19 205.56L1261.78 206.91L1267.37 205.56L1272.97 206.91L1278.56 205.56L1284.15 205.56L1289.74 205.56L1295.33 205.56L1300.92 205.56L1306.51 204.21L1312.1 205.56L1317.69 205.56L1323.29 206.91L1328.88 205.56L1334.47 206.91L1340.06 205.56L1345.65 205.56L1351.24 206.91L1356.83 204.21L1362.42 205.56L1368.02 205.56L1373.61 205.56L1379.2 205.56L1384.79 204.21L1390.38 205.56L1395.97 205.56L1401.56 205.56L1407.15 206.91L1412.74 205.56L1418.34 206.91L1423.93 205.56L1429.52 206.91L1435.11 205.56L1440.7 205.56L1440.7 208.26Z" fill="#0000ff" stroke="#000" stroke-width="1.2" stroke-linejoin="miter"/>
<path d="M905.3 235.88L905.3 231.82L909.54 230.47L915.13 229.12L920.72 229.12L926.31 229.12L931.91 229.12L937.5 229.12L943.09 230.47L948.68 231.82L954.27 234.53L959.86 234.53L965.45 234.53L971.04 235.88L976.63 234.53L982.23 235.88L987.82 233.18L993.41 234.53L999 233.18L1004.59 234.53L1010.18 234.53L1015.77 234.53L1021.36 233.18L1026.96 233.18L1032.55 233.18L1038.14 233.18L1043.73 233.18L1049.32 234.53L1054.91 233.18L1060.5 233.18L1066.09 233.18L1071.68 233.18L1077.28 233.18L1082.87 233.18L1088.46 233.18L1094.05 233.18L1099.64 233.18L1105.23 233.18L1110.82 233.18L1116.41 233.18L1122 233.18L1127.6 233.18L1133.19 233.18L1138.78 234.53L1144.37 234.53L1149.96 234.53L1155.55 233.18L1161.14 234.53L1166.73 233.18L1172.33 234.53L1177.92 231.82L1183.51 231.82L1189.1 226.43L1191.53 223.88L1194.69 226.43L1200.28 230.47L1205.87 234.53L1211.46 233.18L1217.05 234.53L1222.65 234.53L1228.24 235.88L1233.83 235.88L1239.42 234.53L1245.01 234.53L1250.6 235.88L1256.19 235.88L1261.78 234.53L1267.37 235.88L1272.97 234.53L1278.56 235.88L1284.15 234.53L1289.74 235.88L1295.33 234.53L1300.92 234.53L1306.51 234.53L1312.1 235.88L1317.69 234.53L1323.29 234.53L1328.88 230.47L1331.65 227.88L1334.47 230.47L1340.06 233.18L1345.65 231.82L1351.24 233.18L1356.83 233.18L1362.42 233.18L1368.02 231.82L1373.61 233.18L1379.2 233.18L1384.79 234.53L1390.38 234.53L1395.97 234.53L1401.56 234.53L1407.15 233.18L1412.74 234.53L1418.34 234.53L1423.93 233.18L1429.52 233.18L1435.11 233.18L1440.7 231.82L1440.7 235.88Z" fill="#0000ff" stroke="#000" stroke-width="1.2" stroke-linejoin="miter"/>
<path d="M905.3 263.49L905.3 259.44L909.54 259.44L915.13 258.09L920.33 251.49L920.72 252.69L926.31 255.39L931.91 259.44L937.5 262.14L943.09 263.49L948.68 262.14L954.27 262.14L959.86 263.49L965.45 263.49L971.04 262.14L976.63 263.49L982.23 262.14L987.82 262.14L993.41 263.49L999 262.14L1004.59 262.14L1010.18 263.49L1015.77 262.14L1021.36 262.14L1026.96 263.49L1032.55 263.49L1038.14 262.14L1043.73 263.49L1049.32 263.49L1054.91 259.44L1060.45 255.49L1060.5 255.39L1066.09 260.79L1071.68 262.14L1077.28 260.79L1082.87 260.79L1088.46 259.44L1094.05 259.44L1099.64 259.44L1105.23 260.79L1110.82 260.79L1116.41 262.14L1122 260.79L1127.6 259.44L1133.19 260.79L1138.78 262.14L1144.37 262.14L1149.96 260.79L1155.55 260.79L1161.14 259.44L1166.73 259.44L1172.33 258.09L1177.92 258.09L1183.51 256.74L1184.19 255.49L1189.1 252.69L1191.53 250.99L1194.69 252.69L1200.28 256.74L1205.87 259.44L1211.46 262.14L1217.05 262.14L1222.65 262.14L1228.24 262.14L1233.83 263.49L1239.42 262.14L1245.01 263.49L1250.6 262.14L1256.19 263.49L1261.78 262.14L1267.37 262.14L1272.97 262.14L1278.56 263.49L1284.15 262.14L1289.74 262.14L1295.33 262.14L1300.92 263.49L1306.51 263.49L1312.1 262.14L1317.69 263.49L1323.29 260.79L1328.88 258.09L1334.47 259.44L1340.06 259.44L1345.65 259.44L1351.24 262.14L1356.83 262.14L1362.42 262.14L1368.02 262.14L1373.61 260.79L1379.2 260.79L1384.79 260.79L1390.38 262.14L1395.97 262.14L1401.56 262.14L1407.15 260.79L1412.74 260.79L1418.34 259.44L1423.93 259.44L1429.52 259.44L1435.11 258.09L1440.7 258.09L1440.7 263.49Z" fill="#0000ff" stroke="#000" stroke-width="1.2" stroke-linejoin="miter"/>
<path d="M905.3 291.1L905.3 285.7L909.54 284.35L912.99 283.1L915.13 281.65L920.33 278.6L920.72 278.95L926.31 283L931.91 285.7L937.5 289.75L943.09 289.75L948.68 289.75L954.27 291.1L959.86 291.1L965.45 289.75L971.04 291.1L976.63 289.75L982.23 291.1L987.82 291.1L993.41 289.75L999 291.1L1004.59 289.75L1010.18 291.1L1015.77 291.1L1021.36 289.75L1026.96 289.75L1032.55 291.1L1038.14 289.75L1043.73 289.75L1049.32 289.75L1054.91 288.4L1060.5 287.05L1066.09 287.05L1071.68 285.7L1077.28 289.75L1082.87 289.75L1088.46 289.75L1094.05 288.4L1099.64 288.4L1105.23 287.05L1110.82 287.05L1116.41 288.4L1122 288.4L1127.6 288.4L1133.19 288.4L1138.78 288.4L1144.37 287.05L1149.96 287.05L1155.55 287.05L1161.14 285.7L1166.73 285.7L1172.33 285.7L1177.92 284.35L1183.51 285.7L1189.1 281.65L1191.53 279.1L1194.69 283L1200.28 288.4L1205.87 289.75L1211.46 289.75L1217.05 289.75L1222.65 289.75L1228.24 289.75L1233.83 289.75L1239.42 289.75L1245.01 289.75L1250.6 291.1L1256.19 289.75L1261.78 289.75L1267.37 289.75L1272.97 291.1L1278.56 289.75L1284.15 289.75L1289.74 289.75L1295.33 289.75L1300.92 289.75L1306.51 289.75L1312.1 289.75L1317.69 289.75L1323.29 288.4L1328.88 289.75L1334.47 288.4L1340.06 289.75L1345.65 288.4L1351.24 288.4L1356.83 288.4L1362.42 291.1L1368.02 291.1L1373.61 289.75L1379.2 291.1L1384.79 289.75L1390.38 287.05L1395.97 287.05L1401.56 285.7L1407.15 287.05L1412.74 287.05L1418.34 287.05L1423.93 287.05L1429.52 285.7L1435.11 285.7L1440.7 285.7L1440.7 291.1Z" fill="#0000ff" stroke="#000" stroke-width="1.2" stroke-linejoin="miter"/>
<path d="M905.3 318.72L905.3 313.32L909.54 313.32L915.13 311.97L920.33 306.72L920.72 306.57L926.31 314.67L931.91 317.37L937.5 318.72L943.09 317.37L948.68 317.37L954.27 317.37L959.86 317.37L965.45 317.37L971.04 317.37L976.63 317.37L982.23 317.37L987.82 317.37L993.41 316.02L999 318.72L1004.59 317.37L1010.18 317.37L1015.77 318.72L1021.36 317.37L1026.96 316.02L1032.55 316.02L1038.14 317.37L1043.73 317.37L1049.32 316.02L1054.91 316.02L1060.5 314.67L1066.09 316.02L1071.68 316.02L1077.28 317.37L1082.87 317.37L1088.46 318.72L1094.05 317.37L1099.64 317.37L1105.23 318.72L1110.82 317.37L1116.41 316.02L1122 314.67L1127.6 314.67L1133.19 313.32L1138.78 314.67L1144.37 314.67L1149.96 314.67L1155.55 313.32L1161.14 313.32L1166.73 313.32L1172.33 314.67L1177.92 316.02L1183.51 313.32L1189.1 310.62L1191.53 309.22L1194.69 310.62L1200.28 314.67L1205.87 316.02L1211.46 317.37L1217.05 318.72L1222.65 317.37L1228.24 317.37L1233.83 317.37L1239.42 317.37L1245.01 317.37L1250.6 318.72L1256.19 318.72L1261.78 317.37L1267.37 318.72L1272.97 318.72L1278.56 318.72L1284.15 317.37L1289.74 317.37L1295.33 317.37L1300.92 317.37L1306.51 318.72L1312.1 318.72L1317.69 316.02L1323.29 316.02L1328.88 314.67L1334.47 317.37L1340.06 318.72L1345.65 317.37L1351.24 317.37L1356.83 316.02L1362.42 316.02L1368.02 316.02L1373.61 316.02L1379.2 316.02L1384.79 316.02L1390.38 314.67L1395.97 316.02L1401.56 314.67L1407.15 314.67L1412.74 314.67L1418.34 314.67L1423.93 314.67L1429.52 313.32L1435.11 313.32L1440.7 313.32L1440.7 318.72Z" fill="#0000ff" stroke="#000" stroke-width="1.2" stroke-linejoin="miter"/>
<path d="M905.3 346.33L905.3 342.28L909.54 342.28L915.13 339.58L920.33 336.83L920.72 336.88L926.31 339.58L931.91 343.63L937.5 343.63L943.09 346.33L948.68 346.33L954.27 344.98L959.86 346.33L965.45 346.33L971.04 344.98L976.63 344.98L982.23 344.98L987.82 346.33L993.41 346.33L999 344.98L1004.59 346.33L1010.18 343.63L1015.77 346.33L1021.36 344.98L1026.96 346.33L1032.55 344.98L1038.14 344.98L1043.73 344.98L1049.32 344.98L1054.91 342.28L1060.5 342.28L1066.09 344.98L1071.68 344.98L1077.28 344.98L1082.87 344.98L1088.46 344.98L1094.05 344.98L1099.64 343.63L1105.23 343.63L1110.82 343.63L1116.41 342.28L1122 343.63L1127.6 343.63L1133.19 342.28L1138.78 343.63L1144.37 342.28L1149.96 342.28L1155.55 342.28L1161.14 342.28L1166.73 340.94L1172.33 340.94L1177.92 340.94L1183.51 340.94L1189.1 336.88L1191.53 334.83L1194.69 336.88L1200.28 340.94L1205.87 344.98L1211.46 344.98L1217.05 346.33L1222.65 344.98L1228.24 346.33L1233.83 343.63L1239.42 344.98L1245.01 344.98L1250.6 344.98L1256.19 344.98L1261.78 344.98L1267.37 343.63L1272.97 344.98L1278.56 344.98L1284.15 344.98L1289.74 344.98L1295.33 343.63L1300.92 344.98L1306.51 343.63L1312.1 343.63L1317.69 344.98L1323.29 344.98L1328.88 344.98L1334.47 344.98L1340.06 343.63L1345.65 344.98L1351.24 344.98L1356.83 346.33L1362.42 344.98L1368.02 344.98L1373.61 344.98L1379.2 344.98L1384.79 344.98L1390.38 343.63L1395.97 343.63L1401.56 343.63L1407.15 342.28L1412.74 342.28L1418.34 342.28L1423.93 340.94L1429.52 340.94L1435.11 340.94L1440.7 340.94L1440.7 346.33Z" fill="#0000ff" stroke="#000" stroke-width="1.2" stroke-linejoin="miter"/>
<path d="M905.3 373.95L905.3 369.9L909.54 368.55L915.13 367.2L920.33 362.45L920.72 363.15L926.31 367.2L931.91 371.25L937.5 372.6L943.09 372.6L948.68 372.6L954.27 373.95L959.86 372.6L965.45 372.6L971.04 372.6L976.63 373.95L982.23 373.95L987.82 371.25L993.41 372.6L999 372.6L1004.59 373.95L1010.18 373.95L1015.77 372.6L1021.36 372.6L1026.96 372.6L1032.55 372.6L1038.14 372.6L1043.73 372.6L1049.32 371.25L1054.91 372.6L1060.5 369.9L1066.09 371.25L1071.68 371.25L1077.28 372.6L1082.87 372.6L1088.46 372.6L1094.05 372.6L1099.64 373.95L1105.23 371.25L1110.82 371.25L1116.41 371.25L1122 372.6L1127.6 369.9L1133.19 369.9L1138.78 369.9L1144.37 369.9L1149.96 369.9L1155.55 368.55L1161.14 368.55L1166.73 368.55L1172.33 368.55L1177.92 368.55L1183.51 367.2L1189.1 363.15L1191.53 360.95L1194.69 363.15L1200.28 369.9L1205.87 372.6L1211.46 373.95L1217.05 372.6L1222.65 372.6L1228.24 371.25L1233.83 372.6L1239.42 372.6L1245.01 372.6L1250.6 372.6L1256.19 372.6L1261.78 373.95L1267.37 372.6L1272.97 372.6L1278.56 372.6L1284.15 371.25L1289.74 373.95L1295.33 371.25L1300.92 373.95L1306.51 372.6L1312.1 371.25L1317.69 372.6L1323.29 372.6L1328.88 371.25L1334.47 372.6L1340.06 372.6L1345.65 372.6L1351.24 372.6L1356.83 372.6L1362.42 371.25L1368.02 372.6L1373.61 371.25L1379.2 371.25L1384.79 369.9L1390.38 369.9L1395.97 369.9L1401.56 369.9L1407.15 369.9L1412.74 369.9L1418.34 368.55L1423.93 369.9L1429.52 371.25L1435.11 369.9L1440.7 368.55L1440.7 373.95Z" fill="#0000ff" stroke="#000" stroke-width="1.2" stroke-linejoin="miter"/>
<path d="M905.3 401.56L905.3 396.17L909.54 396.17L915.13 393.46L920.33 388.56L920.72 389.42L926.31 394.81L931.91 400.21L937.5 400.21L943.09 400.21L948.68 400.21L954.27 400.21L959.86 400.21L965.45 401.56L971.04 400.21L976.63 400.21L982.23 401.56L987.82 401.56L993.41 400.21L999 401.56L1004.59 400.21L1010.18 400.21L1015.77 401.56L1021.36 400.21L1026.96 400.21L1032.55 400.21L1038.14 400.21L1043.73 401.56L1049.32 401.56L1054.91 398.87L1060.5 398.87L1066.09 401.56L1071.68 398.87L1077.28 398.87L1082.87 398.87L1088.46 400.21L1094.05 398.87L1099.64 398.87L1105.23 398.87L1110.82 397.51L1116.41 398.87L1122 397.51L1127.6 397.51L1133.19 397.51L1138.78 397.51L1144.37 397.51L1149.96 398.87L1155.55 398.87L1161.14 398.87L1166.73 397.51L1172.33 396.17L1177.92 394.81L1183.51 394.81L1189.1 394.81L1194.69 394.81L1200.28 394.81L1205.87 396.17L1211.46 398.87L1217.05 397.51L1222.65 397.51L1228.24 398.87L1233.83 400.21L1239.42 400.21L1245.01 400.21L1250.6 400.21L1256.19 400.21L1261.78 400.21L1267.37 400.21L1272.97 400.21L1278.56 400.21L1284.15 401.56L1289.74 400.21L1295.33 400.21L1300.92 398.87L1306.51 400.21L1312.1 398.87L1317.69 398.87L1323.29 400.21L1328.88 400.21L1334.47 400.21L1340.06 400.21L1345.65 398.87L1351.24 400.21L1356.83 398.87L1362.42 400.21L1368.02 400.21L1373.61 398.87L1379.2 400.21L1384.79 400.21L1390.38 398.87L1395.97 400.21L1401.56 398.87L1407.15 400.21L1412.74 398.87L1418.34 398.87L1423.93 398.87L1429.52 398.87L1435.11 400.21L1440.7 398.87L1440.7 401.56Z" fill="#0000ff" stroke="#000" stroke-width="1.2" stroke-linejoin="miter"/>
<path d="M905.3 429.18L905.3 423.78L909.54 422.43L915.13 422.43L920.72 421.08L926.31 422.43L931.91 423.78L937.5 423.78L943.09 426.48L948.68 426.48L954.27 426.48L959.86 427.83L965.45 427.83L971.04 427.83L976.63 429.18L982.23 427.83L987.82 427.83L993.41 426.48L999 426.48L1004.59 426.48L1010.18 426.48L1015.77 426.48L1021.36 427.83L1026.96 426.48L1032.55 429.18L1038.14 427.83L1043.73 427.83L1049.32 427.83L1054.91 427.83L1060.5 426.48L1066.09 427.83L1071.68 426.48L1077.28 427.83L1082.87 427.83L1088.46 426.48L1094.05 427.83L1099.64 427.83L1105.23 426.48L1110.82 427.83L1116.41 427.83L1122 426.48L1127.6 426.48L1133.19 426.48L1138.78 426.48L1144.37 426.48L1149.96 426.48L1155.55 426.48L1161.14 427.83L1166.73 427.83L1172.33 426.48L1177.92 426.48L1183.51 427.83L1189.1 426.48L1194.69 426.48L1200.28 425.13L1205.87 425.13L1211.46 426.48L1217.05 426.48L1222.65 426.48L1228.24 427.83L1233.83 426.48L1239.42 426.48L1245.01 426.48L1250.6 427.83L1256.19 429.18L1261.78 427.83L1267.37 429.18L1272.97 427.83L1278.56 427.83L1284.15 427.83L1289.74 427.83L1295.33 426.48L1300.92 427.83L1306.51 426.48L1312.1 426.48L1317.69 427.83L1323.29 426.48L1328.88 427.83L1334.47 427.83L1340.06 426.48L1345.65 427.83L1351.24 427.83L1356.83 429.18L1362.42 429.18L1368.02 429.18L1373.61 429.18L1379.2 429.18L1384.79 429.18L1390.38 429.18L1395.97 429.18L1401.56 429.18L1407.15 429.18L1412.74 429.18L1418.34 429.18L1423.93 429.18L1429.52 429.18L1435.11 429.18L1440.7 429.18L1440.7 429.18Z" fill="#0000ff" stroke="#000" stroke-width="1.2" stroke-linejoin="miter"/>
<path d="M905.3 456.8L905.3 454.1L909.54 455.44L915.13 454.1L920.72 454.1L926.31 452.75L931.91 452.75L937.5 452.75L943.09 454.1L948.68 454.1L954.27 454.1L959.86 452.75L965.45 454.1L971.04 455.44L976.63 454.1L982.23 456.8L987.82 455.44L993.41 455.44L999 456.8L1004.59 454.1L1010.18 455.44L1015.77 455.44L1021.36 455.44L1026.96 455.44L1032.55 454.1L1038.14 455.44L1043.73 455.44L1049.32 455.44L1054.91 455.44L1060.5 454.1L1066.09 455.44L1071.68 455.44L1077.28 455.44L1082.87 455.44L1088.46 456.8L1094.05 456.8L1099.64 456.8L1105.23 456.8L1110.82 456.8L1116.41 456.8L1122 456.8L1127.6 456.8L1133.19 456.8L1138.78 456.8L1144.37 456.8L1149.96 456.8L1155.55 456.8L1161.14 456.8L1166.73 456.8L1172.33 456.8L1177.92 456.8L1183.51 456.8L1189.1 456.8L1194.69 456.8L1200.28 456.8L1205.87 456.8L1211.46 456.8L1217.05 456.8L1222.65 456.8L1228.24 456.8L1233.83 456.8L1239.42 456.8L1245.01 456.8L1250.6 456.8L1256.19 456.8L1261.78 456.8L1267.37 456.8L1272.97 456.8L1278.56 456.8L1284.15 456.8L1289.74 456.8L1295.33 456.8L1300.92 456.8L1306.51 456.8L1312.1 456.8L1317.69 456.8L1323.29 456.8L1328.88 456.8L1334.47 456.8L1340.06 456.8L1345.65 456.8L1351.24 456.8L1356.83 456.8L1362.42 456.8L1368.02 456.8L1373.61 456.8L1379.2 456.8L1384.79 456.8L1390.38 456.8L1395.97 456.8L1401.56 456.8L1407.15 456.8L1412.74 456.8L1418.34 456.8L1423.93 456.8L1429.52 456.8L1435.11 456.8L1440.7 456.8L1440.7 456.8Z" fill="#0000ff" stroke="#000" stroke-width="1.2" stroke-linejoin="miter"/>
<path d="M905.3 97.8H1440.7M905.3 125.41H1440.7M905.3 153.03H1440.7M905.3 180.64H1440.7M905.3 208.26H1440.7M905.3 235.88H1440.7M905.3 263.49H1440.7M905.3 291.1H1440.7M905.3 318.72H1440.7M905.3 346.33H1440.7M905.3 373.95H1440.7M905.3 401.56H1440.7M905.3 429.18H1440.7M905.3 456.8H1440.7" stroke="#000" stroke-width="1.2" fill="none"/>
<path d="M905.3 73V460.2H1446.91" stroke="#000" stroke-width="1.6" fill="none"/>
<path d="M966.1 460.2V455.2M1033.9 460.2V455.2M1101.7 460.2V455.2M1169.5 460.2V455.2M1237.3 460.2V455.2M1305.1 460.2V455.2M1372.9 460.2V455.2M1440.7 460.2V455.2" stroke="#000" stroke-width="1.3" fill="none"/>
<text x="963.6" y="479.6" font-size="16" fill="#222" text-anchor="middle" >6</text>
<text x="1033.9" y="479.6" font-size="16" fill="#222" text-anchor="middle" >12</text>
<text x="1101.7" y="479.6" font-size="16" fill="#222" text-anchor="middle" >18</text>
<text x="1167" y="479.6" font-size="16" fill="#222" text-anchor="middle" >0</text>
<text x="1234.8" y="479.6" font-size="16" fill="#222" text-anchor="middle" >6</text>
<text x="1305.1" y="479.6" font-size="16" fill="#222" text-anchor="middle" >12</text>
<text x="1372.9" y="479.6" font-size="16" fill="#222" text-anchor="middle" >18</text>
<text x="1438.2" y="479.6" font-size="16" fill="#222" text-anchor="middle" >0</text>
<text x="1173" y="500.5" font-size="16" fill="#222" text-anchor="middle" textLength="53.5" lengthAdjust="spacingAndGlyphs" >time (h)</text>
<text x="319.9" y="58" font-size="38" fill="#000" font-style="italic" textLength="156" lengthAdjust="spacingAndGlyphs" >ls-tim;cry</text>
<text x="476.5" y="45.5" font-size="24" fill="#000" font-style="italic" textLength="26" lengthAdjust="spacingAndGlyphs" >02</text>
<text x="1095.5" y="59.2" font-size="38" fill="#000" font-style="italic" textLength="148" lengthAdjust="spacingAndGlyphs" >s-tim;cry</text>
<text x="1244" y="46.7" font-size="24" fill="#000" font-style="italic" textLength="25.5" lengthAdjust="spacingAndGlyphs" >02</text>
<text x="143.5" y="103.8" font-size="16.5" fill="#222" text-anchor="middle" >1</text>
<text x="889.6" y="103.8" font-size="16.5" fill="#222" text-anchor="middle" >1</text>
<text x="143.5" y="131.41" font-size="16.5" fill="#222" text-anchor="middle" >2</text>
<text x="889.6" y="131.41" font-size="16.5" fill="#222" text-anchor="middle" >2</text>
<text x="143.5" y="159.03" font-size="16.5" fill="#222" text-anchor="middle" >3</text>
<text x="889.6" y="159.03" font-size="16.5" fill="#222" text-anchor="middle" >3</text>
<text x="143.5" y="186.64" font-size="16.5" fill="#222" text-anchor="middle" >4</text>
<text x="889.6" y="186.64" font-size="16.5" fill="#222" text-anchor="middle" >4</text>
<text x="143.5" y="214.26" font-size="16.5" fill="#222" text-anchor="middle" >5</text>
<text x="889.6" y="214.26" font-size="16.5" fill="#222" text-anchor="middle" >5</text>
<text x="143.5" y="241.88" font-size="16.5" fill="#222" text-anchor="middle" >6</text>
<text x="889.6" y="241.88" font-size="16.5" fill="#222" text-anchor="middle" >6</text>
<text x="143.5" y="269.49" font-size="16.5" fill="#222" text-anchor="middle" >7</text>
<text x="889.6" y="269.49" font-size="16.5" fill="#222" text-anchor="middle" >7</text>
<text x="143.5" y="297.1" font-size="16.5" fill="#222" text-anchor="middle" >8</text>
<text x="889.6" y="297.1" font-size="16.5" fill="#222" text-anchor="middle" >8</text>
<text x="143.5" y="324.72" font-size="16.5" fill="#222" text-anchor="middle" >9</text>
<text x="889.6" y="324.72" font-size="16.5" fill="#222" text-anchor="middle" >9</text>
<text x="144.8" y="352.33" font-size="16.5" fill="#222" text-anchor="middle" >10</text>
<text x="890.5" y="352.33" font-size="16.5" fill="#222" text-anchor="middle" >10</text>
<text x="144.8" y="379.95" font-size="16.5" fill="#222" text-anchor="middle" >11</text>
<text x="890.5" y="379.95" font-size="16.5" fill="#222" text-anchor="middle" >11</text>
<text x="144.8" y="407.56" font-size="16.5" fill="#222" text-anchor="middle" >12</text>
<text x="890.5" y="407.56" font-size="16.5" fill="#222" text-anchor="middle" >12</text>
<text x="144.8" y="435.18" font-size="16.5" fill="#222" text-anchor="middle" >13</text>
<text x="890.5" y="435.18" font-size="16.5" fill="#222" text-anchor="middle" >13</text>
<text x="144.8" y="462.8" font-size="16.5" fill="#222" text-anchor="middle" >14</text>
<text x="890.5" y="462.8" font-size="16.5" fill="#222" text-anchor="middle" >14</text>
<text transform="translate(870.2 267.4) rotate(-90)" font-size="18" fill="#333" text-anchor="middle" textLength="26.5" lengthAdjust="spacingAndGlyphs">day</text>
<path d="M138 72.6C134 72.6 132 73.1 132 75.6V149C132 151.5 134 152 138 152M132 112.3H126" stroke="#222" stroke-width="1.8" fill="none"/>
<path d="M138 157C134 157 132 157.5 132 160V232.9C132 235.4 134 235.9 138 235.9M132 196.3H126" stroke="#222" stroke-width="1.8" fill="none"/>
<path d="M138 238.8C134 238.8 132 239.3 132 241.8V397C132 399.5 134 400 138 400M132 318.8H126" stroke="#222" stroke-width="1.8" fill="none"/>
<path d="M138 401C134 401 132 401.5 132 404V455C132 457.5 134 458 138 458M132 429H126" stroke="#222" stroke-width="1.8" fill="none"/>
<text x="75.2" y="115.3" font-size="31.5" fill="#000" textLength="33.2" lengthAdjust="spacingAndGlyphs" >LD</text>
<text x="79.2" y="198.2" font-size="31.5" fill="#000" textLength="27.7" lengthAdjust="spacingAndGlyphs" >LL</text>
<text x="43.7" y="330.9" font-size="31.5" fill="#000" textLength="60.9" lengthAdjust="spacingAndGlyphs" >LLTC</text>
<text x="79.9" y="446.6" font-size="31.5" fill="#000" textLength="27.4" lengthAdjust="spacingAndGlyphs" >LL</text>
<text x="124.5" y="867.3" font-size="27" fill="#595959" text-anchor="end" >0</text>
<text x="124.5" y="813.66" font-size="27" fill="#595959" text-anchor="end" >20</text>
<text x="124.5" y="760.02" font-size="27" fill="#595959" text-anchor="end" >40</text>
<text x="124.5" y="706.38" font-size="27" fill="#595959" text-anchor="end" >60</text>
<text x="124.5" y="652.74" font-size="27" fill="#595959" text-anchor="end" >80</text>
<text x="124.5" y="599.1" font-size="27" fill="#595959" text-anchor="end" textLength="40.9" lengthAdjust="spacingAndGlyphs" >100</text>
<path d="M149.2 590.5V858.7M141.2 858.7H149.2M141.2 805.06H149.2M141.2 751.42H149.2M141.2 697.78H149.2M141.2 644.14H149.2M141.2 590.5H149.2" stroke="#000" stroke-width="2.2" fill="none"/>
<path d="M154.7 800.77L166.75 828.93L178.8 847.17L190.85 839.39L202.9 847.17L214.95 852L227 855.21L239.05 856.02L251.1 857.63L263.15 829.73L275.2 825.44L287.25 797.82L299.3 764.03L311.35 709.85L323.4 735.06L335.45 746.59L347.5 742.84L359.55 742.3L371.6 718.16L383.65 724.33L395.7 727.82L407.75 716.29L419.8 714.68L431.85 703.68L443.9 690.54L455.95 774.75L468 827.86L480.05 857.63L492.1 858.7L504.15 858.7L516.2 858.7L528.25 858.7L540.3 858.7L552.35 858.7L564.4 858.7L576.45 858.7L588.5 858.7L600.55 858.7L612.6 858.7L624.65 858.7L636.7 858.7L648.75 858.7L660.8 858.7L672.85 858.7L684.9 858.7L696.95 858.7L709 858.7L721.05 858.7" stroke="#000" stroke-width="4.2" fill="none" stroke-linejoin="round" stroke-linecap="round"/>
<path d="M154.7 830.27L166.75 858.7L178.8 858.7L190.85 858.7L202.9 858.7L214.95 858.7L227 858.7L239.05 858.7L251.1 858.7L263.15 858.7L275.2 849.58L287.25 837.51L299.3 832.68L311.35 817.13L323.4 796.48L335.45 791.65L347.5 798.36L359.55 784.41L371.6 795.4L383.65 785.75L395.7 783.34L407.75 768.85L419.8 754.91L431.85 750.62L443.9 607.4L455.95 772.34L468 810.96L480.05 858.7L492.1 858.7L504.15 858.7L516.2 858.7L528.25 858.7L540.3 858.7L552.35 858.7L564.4 858.7L576.45 858.7L588.5 858.7L600.55 858.7L612.6 858.7L624.65 858.7L636.7 858.7L648.75 858.7L660.8 858.7L672.85 858.7L684.9 858.7L696.95 858.7L709 858.7L721.05 858.7" stroke="#a6a6a6" stroke-width="4.2" fill="none" stroke-linejoin="round" stroke-linecap="round"/>
<rect x="149.2" y="858.7" width="290.8" height="20.3" fill="#ffc000" stroke="#000" stroke-width="2.2"/>
<rect x="440" y="858.7" width="291" height="20.3" fill="#5b9bd5" stroke="#000" stroke-width="2.2"/>
<text transform="translate(69.7 721.5) rotate(-90)" font-size="29.5" fill="#000" text-anchor="middle" textLength="247.5" lengthAdjust="spacingAndGlyphs">Normalised activity</text>
<text x="346.5" y="567.6" font-size="50" fill="#000" textLength="121.5" lengthAdjust="spacingAndGlyphs" >LLTC6</text>
<text x="894" y="867.8" font-size="27" fill="#595959" text-anchor="end" >0</text>
<text x="894" y="813.98" font-size="27" fill="#595959" text-anchor="end" >20</text>
<text x="894" y="760.16" font-size="27" fill="#595959" text-anchor="end" >40</text>
<text x="894" y="706.34" font-size="27" fill="#595959" text-anchor="end" >60</text>
<text x="894" y="652.52" font-size="27" fill="#595959" text-anchor="end" >80</text>
<text x="894" y="598.7" font-size="27" fill="#595959" text-anchor="end" textLength="40.9" lengthAdjust="spacingAndGlyphs" >100</text>
<path d="M918.5 590.1V859.2M910.5 859.2H918.5M910.5 805.38H918.5M910.5 751.56H918.5M910.5 697.74H918.5M910.5 643.92H918.5M910.5 590.1H918.5" stroke="#000" stroke-width="2.2" fill="none"/>
<path d="M924 859.2L936.05 859.2L948.1 859.2L960.15 859.2L972.2 859.2L984.25 859.2L996.3 859.2L1008.35 851.13L1020.4 848.17L1032.45 832.02L1044.5 791.93L1056.55 788.7L1068.6 760.44L1080.65 794.62L1092.7 791.93L1104.75 773.63L1116.8 778.47L1128.85 798.65L1140.9 798.65L1152.95 809.95L1165 802.69L1177.05 817.76L1189.1 799.73L1201.15 793.81L1213.2 787.62L1225.25 808.88L1237.3 789.77L1249.35 808.88L1261.4 791.66L1273.45 808.07L1285.5 811.03L1297.55 818.3L1309.6 785.47L1321.65 835.52L1333.7 848.71L1345.75 833.37L1357.8 842.78L1369.85 856.78L1381.9 855.97L1393.95 856.78L1406 849.78L1418.05 853.82L1430.1 841.71L1442.15 856.78L1454.2 844.67L1466.25 851.67L1478.3 840.63L1490.35 842.78" stroke="#000" stroke-width="4.2" fill="none" stroke-linejoin="round" stroke-linecap="round"/>
<path d="M924 859.2L936.05 859.2L948.1 859.2L960.15 853.01L972.2 859.2L984.25 854.09L996.3 859.2L1008.35 851.13L1020.4 854.09L1032.45 848.97L1044.5 837.13L1056.55 818.84L1068.6 826.91L1080.65 820.99L1092.7 822.87L1104.75 775.78L1116.8 792.73L1128.85 748.33L1140.9 746.45L1152.95 771.47L1165 778.47L1177.05 765.55L1189.1 736.49L1201.15 734.61L1213.2 760.17L1225.25 743.76L1237.3 735.68L1249.35 731.38L1261.4 732.45L1273.45 735.68L1285.5 778.47L1297.55 774.16L1309.6 770.13L1321.65 785.47L1333.7 803.77L1345.75 829.33L1357.8 833.37L1369.85 821.26L1381.9 829.33L1393.95 848.71L1406 847.63L1418.05 856.78L1430.1 856.78L1442.15 847.63L1454.2 847.63L1466.25 853.82L1478.3 856.78L1490.35 856.78" stroke="#a6a6a6" stroke-width="4.2" fill="none" stroke-linejoin="round" stroke-linecap="round"/>
<rect x="918.5" y="859.2" width="286.8" height="20.3" fill="#ffc000" stroke="#000" stroke-width="2.2"/>
<rect x="1205.3" y="859.2" width="287.5" height="20.3" fill="#ffc000" stroke="#000" stroke-width="2.2"/>
<path d="M1205.3 859.2V879.5" stroke="#000" stroke-width="3.6"/>
<text transform="translate(846.5 721.5) rotate(-90)" font-size="29.5" fill="#000" text-anchor="middle" textLength="247.5" lengthAdjust="spacingAndGlyphs">Normalised activity</text>
<text x="1065.5" y="567.6" font-size="50" fill="#000" textLength="287" lengthAdjust="spacingAndGlyphs" >LL2 (after TC)</text>
<path d="M106 932H149.4" stroke="#000" stroke-width="4.2"/>
<path d="M348.6 932H393.6" stroke="#a6a6a6" stroke-width="4.2"/>
<text x="155.9" y="940" font-size="33" fill="#000" font-style="italic" textLength="131.7" lengthAdjust="spacingAndGlyphs" >ls-tim;cry</text>
<text x="289.2" y="928.7" font-size="18" fill="#000" font-style="italic" textLength="22.5" lengthAdjust="spacingAndGlyphs" >02</text>
<text x="400" y="940" font-size="33" fill="#000" font-style="italic" textLength="123.7" lengthAdjust="spacingAndGlyphs" >s-tim;cry</text>
<text x="526.5" y="928.7" font-size="18" fill="#000" font-style="italic" textLength="22.9" lengthAdjust="spacingAndGlyphs" >02</text>
<path d="M117.6 1306.6H720.3" stroke="#d9d9d9" stroke-width="2" fill="none"/>
<text x="94.5" y="1315.6" font-size="25.2" fill="#595959" text-anchor="end" >0</text>
<text x="94.5" y="1268.62" font-size="25.2" fill="#595959" text-anchor="end" >1</text>
<text x="94.5" y="1221.64" font-size="25.2" fill="#595959" text-anchor="end" >2</text>
<text x="94.5" y="1174.66" font-size="25.2" fill="#595959" text-anchor="end" >3</text>
<text x="94.5" y="1127.68" font-size="25.2" fill="#595959" text-anchor="end" >4</text>
<text x="94.5" y="1080.7" font-size="25.2" fill="#595959" text-anchor="end" >5</text>
<path d="M117.6 1070.7V1307.6M109.6 1306.6H117.6M109.6 1259.62H117.6M109.6 1212.64H117.6M109.6 1165.66H117.6M109.6 1118.68H117.6M109.6 1071.7H117.6" stroke="#000" stroke-width="2.2" fill="none"/>
<text transform="translate(70.1 1198.8) rotate(-90)" font-size="24.1" fill="#000" text-anchor="middle" textLength="191.6" lengthAdjust="spacingAndGlyphs">Relative TIM level</text>
<text x="193.5" y="1352.1" font-size="29.3" fill="#595959" text-anchor="middle" >ZT0</text>
<text x="344.1" y="1352.1" font-size="29.3" fill="#595959" text-anchor="middle" >ZT6</text>
<text x="494.5" y="1352.1" font-size="29.3" fill="#595959" text-anchor="middle" >ZT12</text>
<text x="645.1" y="1352.1" font-size="29.3" fill="#595959" text-anchor="middle" >ZT18</text>
<path d="M193.5 1171.3V1194.32M187 1171.3H200M187 1194.32H200M344.1 1285.93V1289.69M337.6 1285.93H350.6M337.6 1289.69H350.6M494.5 1273.71V1293.92M488 1273.71H501M488 1293.92H501M645.1 1152.51V1183.04M638.6 1152.51H651.6M638.6 1183.04H651.6M193.5 1267.61V1273.71M187 1267.61H200M187 1273.71H200M344.1 1239.42V1253.51M337.6 1239.42H350.6M337.6 1253.51H350.6M494.5 1119.15V1144.52M488 1119.15H501M488 1144.52H501M645.1 1150.63V1179.28M638.6 1150.63H651.6M638.6 1179.28H651.6M193.5 1074.99V1133.71M187 1074.99H200M187 1133.71H200M344.1 1274.65V1278.41M337.6 1274.65H350.6M337.6 1278.41H350.6M494.5 1305.66V1306.6M488 1305.66H501M488 1306.6H501M645.1 1126.2V1129.02M638.6 1126.2H651.6M638.6 1129.02H651.6" stroke="#595959" stroke-width="2.1" fill="none"/>
<path d="M193.5 1183.04L344.1 1287.81L494.5 1283.58L645.1 1168.01" stroke="#4472c4" stroke-width="4.6" fill="none" stroke-linejoin="round" stroke-linecap="round"/>
<circle cx="193.5" cy="1183.04" r="5.8" fill="#4472c4"/>
<circle cx="344.1" cy="1287.81" r="5.8" fill="#4472c4"/>
<circle cx="494.5" cy="1283.58" r="5.8" fill="#4472c4"/>
<circle cx="645.1" cy="1168.01" r="5.8" fill="#4472c4"/>
<path d="M193.5 1270.43L344.1 1246.94L494.5 1131.36L645.1 1165.19" stroke="#ed7d31" stroke-width="4.6" fill="none" stroke-linejoin="round" stroke-linecap="round"/>
<circle cx="193.5" cy="1270.43" r="5.8" fill="#ed7d31"/>
<circle cx="344.1" cy="1246.94" r="5.8" fill="#ed7d31"/>
<circle cx="494.5" cy="1131.36" r="5.8" fill="#ed7d31"/>
<circle cx="645.1" cy="1165.19" r="5.8" fill="#ed7d31"/>
<path d="M193.5 1104.12L344.1 1276.53L494.5 1306.6L645.1 1127.61" stroke="#a5a5a5" stroke-width="4.6" fill="none" stroke-linejoin="round" stroke-linecap="round"/>
<circle cx="193.5" cy="1104.12" r="5.8" fill="#a5a5a5"/>
<circle cx="344.1" cy="1276.53" r="5.8" fill="#a5a5a5"/>
<circle cx="494.5" cy="1306.6" r="5.8" fill="#a5a5a5"/>
<circle cx="645.1" cy="1127.61" r="5.8" fill="#a5a5a5"/>
<text x="196.5" y="1306.1" font-size="25" fill="#000" text-anchor="middle" >***</text>
<text x="494.5" y="1125.3" font-size="25" fill="#000" text-anchor="middle" >***</text>
<path d="M115.9 1703.7H718.6" stroke="#d9d9d9" stroke-width="2" fill="none"/>
<text x="93" y="1712.7" font-size="25.2" fill="#595959" text-anchor="end" >0</text>
<text x="93" y="1665.72" font-size="25.2" fill="#595959" text-anchor="end" >1</text>
<text x="93" y="1618.74" font-size="25.2" fill="#595959" text-anchor="end" >2</text>
<text x="93" y="1571.76" font-size="25.2" fill="#595959" text-anchor="end" >3</text>
<text x="93" y="1524.78" font-size="25.2" fill="#595959" text-anchor="end" >4</text>
<text x="93" y="1477.8" font-size="25.2" fill="#595959" text-anchor="end" >5</text>
<path d="M115.9 1467.8V1704.7M107.9 1703.7H115.9M107.9 1656.72H115.9M107.9 1609.74H115.9M107.9 1562.76H115.9M107.9 1515.78H115.9M107.9 1468.8H115.9" stroke="#000" stroke-width="2.2" fill="none"/>
<text transform="translate(70.1 1587) rotate(-90)" font-size="24.1" fill="#000" text-anchor="middle" textLength="190.5" lengthAdjust="spacingAndGlyphs">Relative TIM level</text>
<text x="191.1" y="1749.6" font-size="29.3" fill="#595959" text-anchor="middle" >ZT0</text>
<text x="341.2" y="1749.6" font-size="29.3" fill="#595959" text-anchor="middle" >ZT6</text>
<text x="492" y="1749.6" font-size="29.3" fill="#595959" text-anchor="middle" >ZT12</text>
<text x="642.7" y="1749.6" font-size="29.3" fill="#595959" text-anchor="middle" >ZT18</text>
<path d="M191.1 1673.16V1677.86M184.6 1673.16H197.6M184.6 1677.86H197.6M341.2 1655.31V1659.07M334.7 1655.31H347.7M334.7 1659.07H347.7M492 1552.89V1581.08M485.5 1552.89H498.5M485.5 1581.08H498.5M642.7 1501.69V1521.89M636.2 1501.69H649.2M636.2 1521.89H649.2M191.1 1632.29V1638.87M184.6 1632.29H197.6M184.6 1638.87H197.6M341.2 1660.48V1667.06M334.7 1660.48H347.7M334.7 1667.06H347.7M492 1606.45V1623.36M485.5 1606.45H498.5M485.5 1623.36H498.5M642.7 1571.22V1603.16M636.2 1571.22H649.2M636.2 1603.16H649.2" stroke="#595959" stroke-width="2.1" fill="none"/>
<path d="M191.1 1675.51L341.2 1657.19L492 1566.99L642.7 1512.02" stroke="#4472c4" stroke-width="4.6" fill="none" stroke-linejoin="round" stroke-linecap="round"/>
<circle cx="191.1" cy="1675.51" r="5.8" fill="#4472c4"/>
<circle cx="341.2" cy="1657.19" r="5.8" fill="#4472c4"/>
<circle cx="492" cy="1566.99" r="5.8" fill="#4472c4"/>
<circle cx="642.7" cy="1512.02" r="5.8" fill="#4472c4"/>
<path d="M191.1 1635.58L341.2 1663.77L492 1614.91L642.7 1587.19" stroke="#ed7d31" stroke-width="4.6" fill="none" stroke-linejoin="round" stroke-linecap="round"/>
<circle cx="191.1" cy="1635.58" r="5.8" fill="#ed7d31"/>
<circle cx="341.2" cy="1663.77" r="5.8" fill="#ed7d31"/>
<circle cx="492" cy="1614.91" r="5.8" fill="#ed7d31"/>
<circle cx="642.7" cy="1587.19" r="5.8" fill="#ed7d31"/>
<path d="M141.9 2091.8H722.2" stroke="#d9d9d9" stroke-width="2" fill="none"/>
<text x="118.3" y="2100.8" font-size="25.2" fill="#595959" text-anchor="end" >0</text>
<text x="118.3" y="2061.65" font-size="25.2" fill="#595959" text-anchor="end" >0.5</text>
<text x="118.3" y="2022.5" font-size="25.2" fill="#595959" text-anchor="end" >1</text>
<text x="118.3" y="1983.35" font-size="25.2" fill="#595959" text-anchor="end" >1.5</text>
<text x="118.3" y="1944.2" font-size="25.2" fill="#595959" text-anchor="end" >2</text>
<text x="118.3" y="1905.05" font-size="25.2" fill="#595959" text-anchor="end" >2.5</text>
<text x="118.3" y="1865.9" font-size="25.2" fill="#595959" text-anchor="end" >3</text>
<path d="M141.9 1855.9V2092.8M133.9 2091.8H141.9M133.9 2052.65H141.9M133.9 2013.5H141.9M133.9 1974.35H141.9M133.9 1935.2H141.9M133.9 1896.05H141.9M133.9 1856.9H141.9" stroke="#000" stroke-width="2.2" fill="none"/>
<text transform="translate(66 1974.3) rotate(-90)" font-size="24.1" fill="#000" text-anchor="middle" textLength="191.4" lengthAdjust="spacingAndGlyphs">Relative TIM level</text>
<text x="214.2" y="2138.2" font-size="29.3" fill="#595959" text-anchor="middle" >ZT0</text>
<text x="359.3" y="2138.2" font-size="29.3" fill="#595959" text-anchor="middle" >ZT6</text>
<text x="504.6" y="2138.2" font-size="29.3" fill="#595959" text-anchor="middle" >ZT12</text>
<text x="649.4" y="2138.2" font-size="29.3" fill="#595959" text-anchor="middle" >ZT18</text>
<path d="M214.2 2034.64V2045.99M207.7 2034.64H220.7M207.7 2045.99H220.7M359.3 2039.34V2052.65M352.8 2039.34H365.8M352.8 2052.65H365.8M504.6 1871.78V1912.49M498.1 1871.78H511.1M498.1 1912.49H511.1M649.4 2013.5V2023.68M642.9 2013.5H655.9M642.9 2023.68H655.9M214.2 2046.39V2057.35M207.7 2046.39H220.7M207.7 2057.35H220.7M359.3 2010.37V2032.29M352.8 2010.37H365.8M352.8 2032.29H365.8M504.6 1938.33V1967.69M498.1 1938.33H511.1M498.1 1967.69H511.1M649.4 2040.12V2053.43M642.9 2040.12H655.9M642.9 2053.43H655.9M214.2 2060.48V2072.23M207.7 2060.48H220.7M207.7 2072.23H220.7M359.3 2034.64V2050.3M352.8 2034.64H365.8M352.8 2050.3H365.8M504.6 1985.31V2004.1M498.1 1985.31H511.1M498.1 2004.1H511.1M649.4 2010.37V2023.68M642.9 2010.37H655.9M642.9 2023.68H655.9" stroke="#595959" stroke-width="2.1" fill="none"/>
<path d="M214.2 2040.51L359.3 2045.99L504.6 1892.53L649.4 2018.2" stroke="#4472c4" stroke-width="4.6" fill="none" stroke-linejoin="round" stroke-linecap="round"/>
<circle cx="214.2" cy="2040.51" r="5.8" fill="#4472c4"/>
<circle cx="359.3" cy="2045.99" r="5.8" fill="#4472c4"/>
<circle cx="504.6" cy="1892.53" r="5.8" fill="#4472c4"/>
<circle cx="649.4" cy="2018.2" r="5.8" fill="#4472c4"/>
<path d="M214.2 2051.87L359.3 2021.33L504.6 1952.43L649.4 2046.7" stroke="#ed7d31" stroke-width="4.6" fill="none" stroke-linejoin="round" stroke-linecap="round"/>
<circle cx="214.2" cy="2051.87" r="5.8" fill="#ed7d31"/>
<circle cx="359.3" cy="2021.33" r="5.8" fill="#ed7d31"/>
<circle cx="504.6" cy="1952.43" r="5.8" fill="#ed7d31"/>
<circle cx="649.4" cy="2046.7" r="5.8" fill="#ed7d31"/>
<path d="M214.2 2066.74L359.3 2042.47L504.6 1993.93L649.4 2017.02" stroke="#a5a5a5" stroke-width="4.6" fill="none" stroke-linejoin="round" stroke-linecap="round"/>
<circle cx="214.2" cy="2066.74" r="5.8" fill="#a5a5a5"/>
<circle cx="359.3" cy="2042.47" r="5.8" fill="#a5a5a5"/>
<circle cx="504.6" cy="1993.93" r="5.8" fill="#a5a5a5"/>
<circle cx="649.4" cy="2017.02" r="5.8" fill="#a5a5a5"/>
<path d="M874.8 1306.6H1477" stroke="#d9d9d9" stroke-width="2" fill="none"/>
<text x="850.2" y="1315.6" font-size="25.2" fill="#595959" text-anchor="end" >0</text>
<text x="850.2" y="1268.72" font-size="25.2" fill="#595959" text-anchor="end" >2</text>
<text x="850.2" y="1221.84" font-size="25.2" fill="#595959" text-anchor="end" >4</text>
<text x="850.2" y="1174.96" font-size="25.2" fill="#595959" text-anchor="end" >6</text>
<text x="850.2" y="1128.08" font-size="25.2" fill="#595959" text-anchor="end" >8</text>
<text x="850.2" y="1081.2" font-size="25.2" fill="#595959" text-anchor="end" >10</text>
<path d="M874.8 1071.2V1307.6M866.8 1306.6H874.8M866.8 1259.72H874.8M866.8 1212.84H874.8M866.8 1165.96H874.8M866.8 1119.08H874.8M866.8 1072.2H874.8" stroke="#000" stroke-width="2.2" fill="none"/>
<text transform="translate(823.7 1198.2) rotate(-90)" font-size="23" fill="#000" text-anchor="middle" textLength="190.4" lengthAdjust="spacingAndGlyphs">Relative PER level</text>
<text x="950.2" y="1352.1" font-size="29.3" fill="#595959" text-anchor="middle" >ZT0</text>
<text x="1100.8" y="1352.1" font-size="29.3" fill="#595959" text-anchor="middle" >ZT6</text>
<text x="1251.2" y="1352.1" font-size="29.3" fill="#595959" text-anchor="middle" >ZT12</text>
<text x="1401.8" y="1352.1" font-size="29.3" fill="#595959" text-anchor="middle" >ZT18</text>
<path d="M950.2 1163.38V1189.4M943.7 1163.38H956.7M943.7 1189.4H956.7M1100.8 1238.62V1245.66M1094.3 1238.62H1107.3M1094.3 1245.66H1107.3M1251.2 1277.3V1279.64M1244.7 1277.3H1257.7M1244.7 1279.64H1257.7M1401.8 1230.65V1268.16M1395.3 1230.65H1408.3M1395.3 1268.16H1408.3M950.2 1253.86V1256.2M943.7 1253.86H956.7M943.7 1256.2H956.7M1100.8 1285.5V1287.85M1094.3 1285.5H1107.3M1094.3 1287.85H1107.3M1251.2 1232.76V1236.28M1244.7 1232.76H1257.7M1244.7 1236.28H1257.7M1401.8 1110.17V1139.71M1395.3 1110.17H1408.3M1395.3 1139.71H1408.3M950.2 1090.95V1157.29M943.7 1090.95H956.7M943.7 1157.29H956.7M1100.8 1230.19V1254.8M1094.3 1230.19H1107.3M1094.3 1254.8H1107.3M1251.2 1294.88V1297.22M1244.7 1294.88H1257.7M1244.7 1297.22H1257.7M1401.8 1200.18V1240.5M1395.3 1200.18H1408.3M1395.3 1240.5H1408.3" stroke="#595959" stroke-width="2.1" fill="none"/>
<path d="M950.2 1177.21L1100.8 1242.14L1251.2 1278.47L1401.8 1249.41" stroke="#4472c4" stroke-width="6.6" fill="none" stroke-linejoin="round" stroke-linecap="round"/>
<circle cx="950.2" cy="1177.21" r="8" fill="#4472c4"/>
<circle cx="1100.8" cy="1242.14" r="8" fill="#4472c4"/>
<circle cx="1251.2" cy="1278.47" r="8" fill="#4472c4"/>
<circle cx="1401.8" cy="1249.41" r="8" fill="#4472c4"/>
<path d="M950.2 1255.27L1100.8 1286.68L1251.2 1234.4L1401.8 1124.71" stroke="#ed7d31" stroke-width="6.6" fill="none" stroke-linejoin="round" stroke-linecap="round"/>
<circle cx="950.2" cy="1255.27" r="8" fill="#ed7d31"/>
<circle cx="1100.8" cy="1286.68" r="8" fill="#ed7d31"/>
<circle cx="1251.2" cy="1234.4" r="8" fill="#ed7d31"/>
<circle cx="1401.8" cy="1124.71" r="8" fill="#ed7d31"/>
<path d="M950.2 1124.24L1100.8 1242.84L1251.2 1296.29L1401.8 1219.87" stroke="#a5a5a5" stroke-width="6.6" fill="none" stroke-linejoin="round" stroke-linecap="round"/>
<circle cx="950.2" cy="1124.24" r="8" fill="#a5a5a5"/>
<circle cx="1100.8" cy="1242.84" r="8" fill="#a5a5a5"/>
<circle cx="1251.2" cy="1296.29" r="8" fill="#a5a5a5"/>
<circle cx="1401.8" cy="1219.87" r="8" fill="#a5a5a5"/>
<text x="950.2" y="1291.5" font-size="25" fill="#000" text-anchor="middle" >***</text>
<text x="1401.7" y="1204.8" font-size="25" fill="#000" text-anchor="middle" >*</text>
<text x="1404" y="1294" font-size="25" fill="#000" text-anchor="middle" >**</text>
<path d="M870.7 1703.7H1458.2" stroke="#d9d9d9" stroke-width="2" fill="none"/>
<text x="846.5" y="1712.7" font-size="25.2" fill="#595959" text-anchor="end" >0</text>
<text x="846.5" y="1665.72" font-size="25.2" fill="#595959" text-anchor="end" >2</text>
<text x="846.5" y="1618.74" font-size="25.2" fill="#595959" text-anchor="end" >4</text>
<text x="846.5" y="1571.76" font-size="25.2" fill="#595959" text-anchor="end" >6</text>
<text x="846.5" y="1524.78" font-size="25.2" fill="#595959" text-anchor="end" >8</text>
<text x="846.5" y="1477.8" font-size="25.2" fill="#595959" text-anchor="end" >10</text>
<path d="M870.7 1467.8V1704.7M862.7 1703.7H870.7M862.7 1656.72H870.7M862.7 1609.74H870.7M862.7 1562.76H870.7M862.7 1515.78H870.7M862.7 1468.8H870.7" stroke="#000" stroke-width="2.2" fill="none"/>
<text transform="translate(823.7 1585.6) rotate(-90)" font-size="23" fill="#000" text-anchor="middle" textLength="189" lengthAdjust="spacingAndGlyphs">Relative PER level</text>
<text x="943.7" y="1749.6" font-size="29.3" fill="#595959" text-anchor="middle" >ZT0</text>
<text x="1090.7" y="1749.6" font-size="29.3" fill="#595959" text-anchor="middle" >ZT6</text>
<text x="1237.7" y="1749.6" font-size="29.3" fill="#595959" text-anchor="middle" >ZT12</text>
<text x="1384.2" y="1749.6" font-size="29.3" fill="#595959" text-anchor="middle" >ZT18</text>
<path d="M943.7 1662.59V1666.12M937.2 1662.59H950.2M937.2 1666.12H950.2M1090.7 1683.5V1685.38M1084.2 1683.5H1097.2M1084.2 1685.38H1097.2M1237.7 1682.32V1684.2M1231.2 1682.32H1244.2M1231.2 1684.2H1244.2M1384.2 1654.14V1660.71M1377.7 1654.14H1390.7M1377.7 1660.71H1390.7M943.7 1648.5V1653.2M937.2 1648.5H950.2M937.2 1653.2H950.2M1090.7 1683.97V1685.85M1084.2 1683.97H1097.2M1084.2 1685.85H1097.2M1237.7 1670.81V1675.04M1231.2 1670.81H1244.2M1231.2 1675.04H1244.2M1384.2 1628.3V1651.08M1377.7 1628.3H1390.7M1377.7 1651.08H1390.7" stroke="#595959" stroke-width="2.1" fill="none"/>
<path d="M943.7 1664.47L1090.7 1684.44L1237.7 1683.26L1384.2 1655.55" stroke="#4472c4" stroke-width="5" fill="none" stroke-linejoin="round" stroke-linecap="round"/>
<circle cx="943.7" cy="1664.47" r="5.8" fill="#4472c4"/>
<circle cx="1090.7" cy="1684.44" r="5.8" fill="#4472c4"/>
<circle cx="1237.7" cy="1683.26" r="5.8" fill="#4472c4"/>
<circle cx="1384.2" cy="1655.55" r="5.8" fill="#4472c4"/>
<path d="M943.7 1651.08L1090.7 1684.91L1237.7 1672.93L1384.2 1640.98" stroke="#ed7d31" stroke-width="5" fill="none" stroke-linejoin="round" stroke-linecap="round"/>
<circle cx="943.7" cy="1651.08" r="5.8" fill="#ed7d31"/>
<circle cx="1090.7" cy="1684.91" r="5.8" fill="#ed7d31"/>
<circle cx="1237.7" cy="1672.93" r="5.8" fill="#ed7d31"/>
<circle cx="1384.2" cy="1640.98" r="5.8" fill="#ed7d31"/>
<text x="944.2" y="1650.5" font-size="25" fill="#000" text-anchor="middle" >***</text>
<text x="945.8" y="1695.2" font-size="25" fill="#000" text-anchor="middle" >***</text>
<text x="1238.6" y="1673.5" font-size="25" fill="#000" text-anchor="middle" >**</text>
<text x="1239.4" y="1706.6" font-size="27" fill="#000" text-anchor="middle" >ns</text>
<text x="1385.5" y="1631.5" font-size="25" fill="#000" text-anchor="middle" >***</text>
<text x="1382.1" y="1683.2" font-size="25" fill="#000" text-anchor="middle" >***</text>
<path d="M855.9 2091.8H1457.8" stroke="#d9d9d9" stroke-width="2" fill="none"/>
<text x="831" y="2100.8" font-size="25.2" fill="#595959" text-anchor="end" >0</text>
<text x="831" y="2042.08" font-size="25.2" fill="#595959" text-anchor="end" >1</text>
<text x="831" y="1983.36" font-size="25.2" fill="#595959" text-anchor="end" >2</text>
<text x="831" y="1924.64" font-size="25.2" fill="#595959" text-anchor="end" >3</text>
<text x="831" y="1865.92" font-size="25.2" fill="#595959" text-anchor="end" >4</text>
<path d="M855.9 1855.92V2092.8M847.9 2091.8H855.9M847.9 2033.08H855.9M847.9 1974.36H855.9M847.9 1915.64H855.9M847.9 1856.92H855.9" stroke="#000" stroke-width="2.2" fill="none"/>
<text transform="translate(816.1 1973.8) rotate(-90)" font-size="23" fill="#000" text-anchor="middle" textLength="190.4" lengthAdjust="spacingAndGlyphs">Relative PER level</text>
<text x="930.6" y="2138.2" font-size="29.3" fill="#595959" text-anchor="middle" >ZT0</text>
<text x="1081.2" y="2138.2" font-size="29.3" fill="#595959" text-anchor="middle" >ZT6</text>
<text x="1232" y="2138.2" font-size="29.3" fill="#595959" text-anchor="middle" >ZT12</text>
<text x="1382.7" y="2138.2" font-size="29.3" fill="#595959" text-anchor="middle" >ZT18</text>
<path d="M930.6 2018.4V2024.27M924.1 2018.4H937.1M924.1 2024.27H937.1M1081.2 2053.63V2062.44M1074.7 2053.63H1087.7M1074.7 2062.44H1087.7M1232 1929.73V1972.6M1225.5 1929.73H1238.5M1225.5 1972.6H1238.5M1382.7 1956.74V1980.23M1376.2 1956.74H1389.2M1376.2 1980.23H1389.2M930.6 2030.14V2036.02M924.1 2030.14H937.1M924.1 2036.02H937.1M1081.2 2041.89V2050.7M1074.7 2041.89H1087.7M1074.7 2050.7H1087.7M1232 1936.19V1966.73M1225.5 1936.19H1238.5M1225.5 1966.73H1238.5M1382.7 1959.68V1993.15M1376.2 1959.68H1389.2M1376.2 1993.15H1389.2M930.6 2043.65V2057.74M924.1 2043.65H937.1M924.1 2057.74H937.1M1081.2 2065.96V2069.49M1074.7 2065.96H1087.7M1074.7 2069.49H1087.7M1232 2020.75V2034.25M1225.5 2020.75H1238.5M1225.5 2034.25H1238.5M1382.7 1993.15V2017.81M1376.2 1993.15H1389.2M1376.2 2017.81H1389.2" stroke="#595959" stroke-width="2.1" fill="none"/>
<path d="M930.6 2021.34L1081.2 2058.04L1232 1950.28L1382.7 1970.84" stroke="#4472c4" stroke-width="6.6" fill="none" stroke-linejoin="round" stroke-linecap="round"/>
<circle cx="930.6" cy="2021.34" r="8" fill="#4472c4"/>
<circle cx="1081.2" cy="2058.04" r="8" fill="#4472c4"/>
<circle cx="1232" cy="1950.28" r="8" fill="#4472c4"/>
<circle cx="1382.7" cy="1970.84" r="8" fill="#4472c4"/>
<path d="M930.6 2033.08L1081.2 2046L1232 1950.87L1382.7 1982.58" stroke="#ed7d31" stroke-width="6.6" fill="none" stroke-linejoin="round" stroke-linecap="round"/>
<circle cx="930.6" cy="2033.08" r="8" fill="#ed7d31"/>
<circle cx="1081.2" cy="2046" r="8" fill="#ed7d31"/>
<circle cx="1232" cy="1950.87" r="8" fill="#ed7d31"/>
<circle cx="1382.7" cy="1982.58" r="8" fill="#ed7d31"/>
<path d="M930.6 2051.87L1081.2 2067.72L1232 2027.5L1382.7 2005.78" stroke="#a5a5a5" stroke-width="6.6" fill="none" stroke-linejoin="round" stroke-linecap="round"/>
<circle cx="930.6" cy="2051.87" r="8" fill="#a5a5a5"/>
<circle cx="1081.2" cy="2067.72" r="8" fill="#a5a5a5"/>
<circle cx="1232" cy="2027.5" r="8" fill="#a5a5a5"/>
<circle cx="1382.7" cy="2005.78" r="8" fill="#a5a5a5"/>
<text x="308.7" y="1045" font-size="37" fill="#000" textLength="105.5" lengthAdjust="spacingAndGlyphs" >TIM in</text>
<text x="423.5" y="1045" font-size="37" fill="#000" font-style="italic" textLength="147.5" lengthAdjust="spacingAndGlyphs" >s-tim;cry</text>
<text x="571" y="1032.8" font-size="24.5" fill="#000" font-style="italic" textLength="29.4" lengthAdjust="spacingAndGlyphs" >02</text>
<text x="1031.8" y="1044.8" font-size="37" fill="#000" textLength="101.5" lengthAdjust="spacingAndGlyphs" >PER in</text>
<text x="1145.9" y="1044.8" font-size="37" fill="#000" font-style="italic" textLength="145.5" lengthAdjust="spacingAndGlyphs" >s-tim;cry</text>
<text x="1292.5" y="1032.6" font-size="24.5" fill="#000" font-style="italic" textLength="28" lengthAdjust="spacingAndGlyphs" >02</text>
<path d="M69 1399.8H108.2" stroke="#4472c4" stroke-width="5.2"/>
<text x="113.8" y="1408.6" font-size="29.5" fill="#000" textLength="126" lengthAdjust="spacingAndGlyphs" >LNd CRY</text>
<text x="240" y="1399.4" font-size="20" fill="#000" >+</text>
<path d="M289 1399.8H328.3" stroke="#ed7d31" stroke-width="5.2"/>
<text x="337.3" y="1410.1" font-size="29.5" fill="#000" textLength="126" lengthAdjust="spacingAndGlyphs" >LNd CRY</text>
<text x="463.2" y="1402" font-size="20" fill="#000" >-</text>
<path d="M504 1400.1H544.2" stroke="#a5a5a5" stroke-width="5.2"/>
<text x="552.3" y="1410.6" font-size="29.5" fill="#000" textLength="41.5" lengthAdjust="spacingAndGlyphs" >5th</text>
<path d="M68.7 1786.3H108.4" stroke="#4472c4" stroke-width="5.2"/>
<text x="114.3" y="1795.1" font-size="29.5" fill="#000" textLength="66.9" lengthAdjust="spacingAndGlyphs" >sLNv</text>
<path d="M241.4 1786.3H280.8" stroke="#ed7d31" stroke-width="5.2"/>
<text x="297.7" y="1795.1" font-size="29.5" fill="#000" textLength="57.5" lengthAdjust="spacingAndGlyphs" >lLNv</text>
<path d="M66.9 2173.5H106.2" stroke="#4472c4" stroke-width="5.2"/>
<text x="113.5" y="2183.2" font-size="29.5" fill="#000" textLength="79" lengthAdjust="spacingAndGlyphs" >DN1p</text>
<path d="M287 2173.5H327" stroke="#ed7d31" stroke-width="5.2"/>
<text x="336" y="2183.2" font-size="29.5" fill="#000" textLength="59" lengthAdjust="spacingAndGlyphs" >DN2</text>
<path d="M501.8 2173.5H542" stroke="#a5a5a5" stroke-width="5.2"/>
<text x="552" y="2183.2" font-size="29.5" fill="#000" textLength="59" lengthAdjust="spacingAndGlyphs" >DN3</text>
</svg>
</body></html>
